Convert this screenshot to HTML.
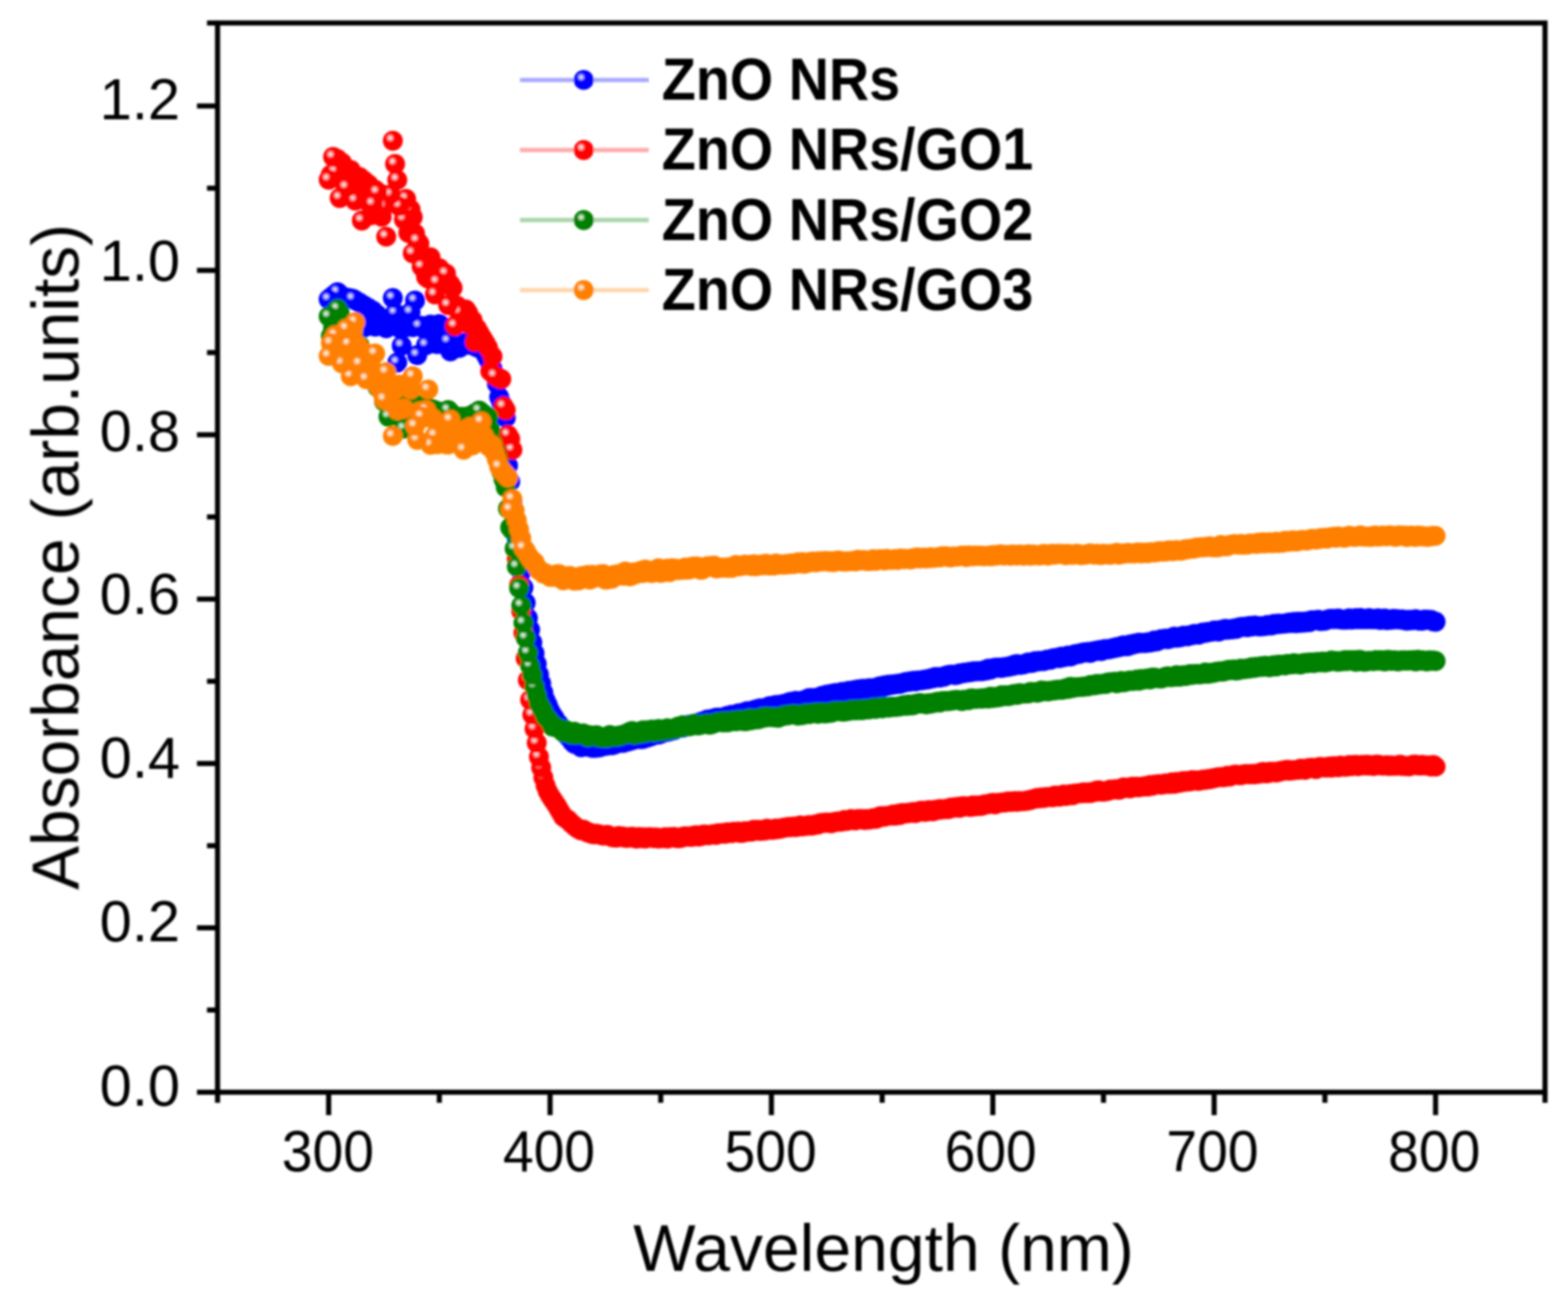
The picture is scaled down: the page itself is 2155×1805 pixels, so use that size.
<!DOCTYPE html>
<html><head><meta charset="utf-8"><title>Absorbance spectra</title>
<style>
html,body{margin:0;padding:0;background:#fff;}
body{width:2155px;height:1805px;overflow:hidden;}
svg{display:block;}
text{font-family:"Liberation Sans",sans-serif;fill:#000;}
.tk{font-size:80.2px;}
.ax{font-size:90.8px;}
.ay{font-size:90.5px;}
.lg{font-size:81.3px;font-weight:bold;}
</style></head><body>
<svg width="2155" height="1805" viewBox="0 0 2155 1805">
<rect width="2155" height="1805" fill="#fff"/>
<defs>
<filter id="bl" x="-2%" y="-2%" width="104%" height="104%"><feGaussianBlur stdDeviation="1.6"/></filter>
<radialGradient id="gb" cx="0.37" cy="0.36" r="0.5" fx="0.37" fy="0.36"><stop offset="0" stop-color="#d0d0ff"/><stop offset="0.15" stop-color="#d0d0ff"/><stop offset="0.43" stop-color="#0000ff"/><stop offset="1" stop-color="#0000ff"/></radialGradient>
<circle id="mb" r="13.7" fill="url(#gb)"/>
<circle id="pb" r="13.7" fill="#0000ff"/>
<radialGradient id="gr" cx="0.37" cy="0.36" r="0.5" fx="0.37" fy="0.36"><stop offset="0" stop-color="#ffd4d4"/><stop offset="0.15" stop-color="#ffd4d4"/><stop offset="0.43" stop-color="#ff0000"/><stop offset="1" stop-color="#ff0000"/></radialGradient>
<circle id="mr" r="13.7" fill="url(#gr)"/>
<circle id="pr" r="13.7" fill="#ff0000"/>
<radialGradient id="gg" cx="0.37" cy="0.36" r="0.5" fx="0.37" fy="0.36"><stop offset="0" stop-color="#cfe8cf"/><stop offset="0.15" stop-color="#cfe8cf"/><stop offset="0.43" stop-color="#008000"/><stop offset="1" stop-color="#008000"/></radialGradient>
<circle id="mg" r="13.7" fill="url(#gg)"/>
<circle id="pg" r="13.7" fill="#008000"/>
<radialGradient id="go" cx="0.37" cy="0.36" r="0.5" fx="0.37" fy="0.36"><stop offset="0" stop-color="#ffe4c8"/><stop offset="0.15" stop-color="#ffe4c8"/><stop offset="0.43" stop-color="#ff8000"/><stop offset="1" stop-color="#ff8000"/></radialGradient>
<circle id="mo" r="13.7" fill="url(#go)"/>
<circle id="po" r="13.7" fill="#ff8000"/>
</defs>
<g filter="url(#bl)">
<g><use href="#mb" x="1973.0" y="854.7"/>
<use href="#mb" x="1970.0" y="854.2"/>
<use href="#mb" x="1966.9" y="852.2"/>
<use href="#mb" x="1963.9" y="852.3"/>
<use href="#mb" x="1960.8" y="851.9"/>
<use href="#mb" x="1957.8" y="851.8"/>
<use href="#mb" x="1954.7" y="853.2"/>
<use href="#mb" x="1951.7" y="853.4"/>
<use href="#mb" x="1948.7" y="852.8"/>
<use href="#mb" x="1945.6" y="851.3"/>
<use href="#mb" x="1942.6" y="852.3"/>
<use href="#mb" x="1939.5" y="852.7"/>
<use href="#mb" x="1936.5" y="851.9"/>
<use href="#mb" x="1933.4" y="853.4"/>
<use href="#mb" x="1930.4" y="852.5"/>
<use href="#mb" x="1927.4" y="851.5"/>
<use href="#mb" x="1924.3" y="851.9"/>
<use href="#mb" x="1921.3" y="851.2"/>
<use href="#mb" x="1918.2" y="851.5"/>
<use href="#mb" x="1915.2" y="850.6"/>
<use href="#mb" x="1912.1" y="852.0"/>
<use href="#mb" x="1909.1" y="851.4"/>
<use href="#mb" x="1906.1" y="852.6"/>
<use href="#mb" x="1903.0" y="850.2"/>
<use href="#mb" x="1900.0" y="850.7"/>
<use href="#mb" x="1896.9" y="852.4"/>
<use href="#mb" x="1893.9" y="850.0"/>
<use href="#mb" x="1890.8" y="851.0"/>
<use href="#mb" x="1887.8" y="851.2"/>
<use href="#mb" x="1884.8" y="851.3"/>
<use href="#mb" x="1881.7" y="849.8"/>
<use href="#mb" x="1878.7" y="851.4"/>
<use href="#mb" x="1875.6" y="850.7"/>
<use href="#mb" x="1872.6" y="851.4"/>
<use href="#mb" x="1869.6" y="849.4"/>
<use href="#mb" x="1866.5" y="851.2"/>
<use href="#mb" x="1863.5" y="849.8"/>
<use href="#mb" x="1860.4" y="851.4"/>
<use href="#mb" x="1857.4" y="851.7"/>
<use href="#mb" x="1854.3" y="850.0"/>
<use href="#mb" x="1851.3" y="851.9"/>
<use href="#mb" x="1848.3" y="851.9"/>
<use href="#mb" x="1845.2" y="851.8"/>
<use href="#mb" x="1842.2" y="851.5"/>
<use href="#mb" x="1839.1" y="850.3"/>
<use href="#mb" x="1836.1" y="850.9"/>
<use href="#mb" x="1833.0" y="851.1"/>
<use href="#mb" x="1830.0" y="850.6"/>
<use href="#mb" x="1827.0" y="851.0"/>
<use href="#mb" x="1823.9" y="851.9"/>
<use href="#mb" x="1820.9" y="853.3"/>
<use href="#mb" x="1817.8" y="853.6"/>
<use href="#mb" x="1814.8" y="853.9"/>
<use href="#mb" x="1811.7" y="852.0"/>
<use href="#mb" x="1808.7" y="852.6"/>
<use href="#mb" x="1805.7" y="852.6"/>
<use href="#mb" x="1802.6" y="852.7"/>
<use href="#mb" x="1799.6" y="855.4"/>
<use href="#mb" x="1796.5" y="854.3"/>
<use href="#mb" x="1793.5" y="855.9"/>
<use href="#mb" x="1790.4" y="854.6"/>
<use href="#mb" x="1787.4" y="856.2"/>
<use href="#mb" x="1784.4" y="854.7"/>
<use href="#mb" x="1781.3" y="856.9"/>
<use href="#mb" x="1778.3" y="854.9"/>
<use href="#mb" x="1775.2" y="856.5"/>
<use href="#mb" x="1772.2" y="855.7"/>
<use href="#mb" x="1769.1" y="856.8"/>
<use href="#mb" x="1766.1" y="857.1"/>
<use href="#mb" x="1763.1" y="857.4"/>
<use href="#mb" x="1760.0" y="857.7"/>
<use href="#mb" x="1757.0" y="857.2"/>
<use href="#mb" x="1753.9" y="858.4"/>
<use href="#mb" x="1750.9" y="857.6"/>
<use href="#mb" x="1747.8" y="859.8"/>
<use href="#mb" x="1744.8" y="859.8"/>
<use href="#mb" x="1741.8" y="859.2"/>
<use href="#mb" x="1738.7" y="860.5"/>
<use href="#mb" x="1735.7" y="860.9"/>
<use href="#mb" x="1732.6" y="861.0"/>
<use href="#mb" x="1729.6" y="861.1"/>
<use href="#mb" x="1726.5" y="860.2"/>
<use href="#mb" x="1723.5" y="859.9"/>
<use href="#mb" x="1720.5" y="861.3"/>
<use href="#mb" x="1717.4" y="860.5"/>
<use href="#mb" x="1714.4" y="862.2"/>
<use href="#mb" x="1711.3" y="861.4"/>
<use href="#mb" x="1708.3" y="861.9"/>
<use href="#mb" x="1705.3" y="861.9"/>
<use href="#mb" x="1702.2" y="862.7"/>
<use href="#mb" x="1699.2" y="864.5"/>
<use href="#mb" x="1696.1" y="864.0"/>
<use href="#mb" x="1693.1" y="865.3"/>
<use href="#mb" x="1690.0" y="865.3"/>
<use href="#mb" x="1687.0" y="865.8"/>
<use href="#mb" x="1684.0" y="864.4"/>
<use href="#mb" x="1680.9" y="866.1"/>
<use href="#mb" x="1677.9" y="865.9"/>
<use href="#mb" x="1674.8" y="868.2"/>
<use href="#mb" x="1671.8" y="866.6"/>
<use href="#mb" x="1668.7" y="866.7"/>
<use href="#mb" x="1665.7" y="868.3"/>
<use href="#mb" x="1662.7" y="868.8"/>
<use href="#mb" x="1659.6" y="868.7"/>
<use href="#mb" x="1656.6" y="870.1"/>
<use href="#mb" x="1653.5" y="869.4"/>
<use href="#mb" x="1650.5" y="870.5"/>
<use href="#mb" x="1647.4" y="872.5"/>
<use href="#mb" x="1644.4" y="872.3"/>
<use href="#mb" x="1641.4" y="871.4"/>
<use href="#mb" x="1638.3" y="873.4"/>
<use href="#mb" x="1635.3" y="873.2"/>
<use href="#mb" x="1632.2" y="874.8"/>
<use href="#mb" x="1629.2" y="874.2"/>
<use href="#mb" x="1626.1" y="874.0"/>
<use href="#mb" x="1623.1" y="875.7"/>
<use href="#mb" x="1620.1" y="876.2"/>
<use href="#mb" x="1617.0" y="876.8"/>
<use href="#mb" x="1614.0" y="875.3"/>
<use href="#mb" x="1610.9" y="876.8"/>
<use href="#mb" x="1607.9" y="877.7"/>
<use href="#mb" x="1604.8" y="878.8"/>
<use href="#mb" x="1601.8" y="878.0"/>
<use href="#mb" x="1598.8" y="878.5"/>
<use href="#mb" x="1595.7" y="878.6"/>
<use href="#mb" x="1592.7" y="880.4"/>
<use href="#mb" x="1589.6" y="881.8"/>
<use href="#mb" x="1586.6" y="880.4"/>
<use href="#mb" x="1583.5" y="882.5"/>
<use href="#mb" x="1580.5" y="883.3"/>
<use href="#mb" x="1577.5" y="883.0"/>
<use href="#mb" x="1574.4" y="884.1"/>
<use href="#mb" x="1571.4" y="883.6"/>
<use href="#mb" x="1568.3" y="884.1"/>
<use href="#mb" x="1565.3" y="883.5"/>
<use href="#mb" x="1562.2" y="884.9"/>
<use href="#mb" x="1559.2" y="884.6"/>
<use href="#mb" x="1556.2" y="886.3"/>
<use href="#mb" x="1553.1" y="885.9"/>
<use href="#mb" x="1550.1" y="888.4"/>
<use href="#mb" x="1547.0" y="888.5"/>
<use href="#mb" x="1544.0" y="887.3"/>
<use href="#mb" x="1541.0" y="888.3"/>
<use href="#mb" x="1537.9" y="889.7"/>
<use href="#mb" x="1534.9" y="889.4"/>
<use href="#mb" x="1531.8" y="891.1"/>
<use href="#mb" x="1528.8" y="890.9"/>
<use href="#mb" x="1525.7" y="892.4"/>
<use href="#mb" x="1522.7" y="892.9"/>
<use href="#mb" x="1519.7" y="892.3"/>
<use href="#mb" x="1516.6" y="892.7"/>
<use href="#mb" x="1513.6" y="895.1"/>
<use href="#mb" x="1510.5" y="893.7"/>
<use href="#mb" x="1507.5" y="894.7"/>
<use href="#mb" x="1504.4" y="895.0"/>
<use href="#mb" x="1501.4" y="895.7"/>
<use href="#mb" x="1498.4" y="897.6"/>
<use href="#mb" x="1495.3" y="896.2"/>
<use href="#mb" x="1492.3" y="896.8"/>
<use href="#mb" x="1489.2" y="897.0"/>
<use href="#mb" x="1486.2" y="897.8"/>
<use href="#mb" x="1483.1" y="899.1"/>
<use href="#mb" x="1480.1" y="898.9"/>
<use href="#mb" x="1477.1" y="899.4"/>
<use href="#mb" x="1474.0" y="901.3"/>
<use href="#mb" x="1471.0" y="902.6"/>
<use href="#mb" x="1467.9" y="901.2"/>
<use href="#mb" x="1464.9" y="902.4"/>
<use href="#mb" x="1461.8" y="903.6"/>
<use href="#mb" x="1458.8" y="902.8"/>
<use href="#mb" x="1455.8" y="904.9"/>
<use href="#mb" x="1452.7" y="904.1"/>
<use href="#mb" x="1449.7" y="904.9"/>
<use href="#mb" x="1446.6" y="905.3"/>
<use href="#mb" x="1443.6" y="907.0"/>
<use href="#mb" x="1440.5" y="906.7"/>
<use href="#mb" x="1437.5" y="907.1"/>
<use href="#mb" x="1434.5" y="908.7"/>
<use href="#mb" x="1431.4" y="908.9"/>
<use href="#mb" x="1428.4" y="908.4"/>
<use href="#mb" x="1425.3" y="909.5"/>
<use href="#mb" x="1422.3" y="908.9"/>
<use href="#mb" x="1419.2" y="911.0"/>
<use href="#mb" x="1416.2" y="911.6"/>
<use href="#mb" x="1413.2" y="910.8"/>
<use href="#mb" x="1410.1" y="911.9"/>
<use href="#mb" x="1407.1" y="913.2"/>
<use href="#mb" x="1404.0" y="913.9"/>
<use href="#mb" x="1401.0" y="914.1"/>
<use href="#mb" x="1397.9" y="913.0"/>
<use href="#mb" x="1394.9" y="913.5"/>
<use href="#mb" x="1391.9" y="915.6"/>
<use href="#mb" x="1388.8" y="915.4"/>
<use href="#mb" x="1385.8" y="916.7"/>
<use href="#mb" x="1382.7" y="916.9"/>
<use href="#mb" x="1379.7" y="917.1"/>
<use href="#mb" x="1376.7" y="918.3"/>
<use href="#mb" x="1373.6" y="917.8"/>
<use href="#mb" x="1370.6" y="917.9"/>
<use href="#mb" x="1367.5" y="917.9"/>
<use href="#mb" x="1364.5" y="918.6"/>
<use href="#mb" x="1361.4" y="920.6"/>
<use href="#mb" x="1358.4" y="919.1"/>
<use href="#mb" x="1355.4" y="921.8"/>
<use href="#mb" x="1352.3" y="921.5"/>
<use href="#mb" x="1349.3" y="922.8"/>
<use href="#mb" x="1346.2" y="922.6"/>
<use href="#mb" x="1343.2" y="922.7"/>
<use href="#mb" x="1340.1" y="922.9"/>
<use href="#mb" x="1337.1" y="922.9"/>
<use href="#mb" x="1334.1" y="924.0"/>
<use href="#mb" x="1331.0" y="924.0"/>
<use href="#mb" x="1328.0" y="924.8"/>
<use href="#mb" x="1324.9" y="924.8"/>
<use href="#mb" x="1321.9" y="925.9"/>
<use href="#mb" x="1318.8" y="925.6"/>
<use href="#mb" x="1315.8" y="927.6"/>
<use href="#mb" x="1312.8" y="928.0"/>
<use href="#mb" x="1309.7" y="927.5"/>
<use href="#mb" x="1306.7" y="927.4"/>
<use href="#mb" x="1303.6" y="927.9"/>
<use href="#mb" x="1300.6" y="928.6"/>
<use href="#mb" x="1297.5" y="930.2"/>
<use href="#mb" x="1294.5" y="930.5"/>
<use href="#mb" x="1291.5" y="931.6"/>
<use href="#mb" x="1288.4" y="930.9"/>
<use href="#mb" x="1285.4" y="930.6"/>
<use href="#mb" x="1282.3" y="932.5"/>
<use href="#mb" x="1279.3" y="932.5"/>
<use href="#mb" x="1276.2" y="933.7"/>
<use href="#mb" x="1273.2" y="934.0"/>
<use href="#mb" x="1270.2" y="934.5"/>
<use href="#mb" x="1267.1" y="935.1"/>
<use href="#mb" x="1264.1" y="935.4"/>
<use href="#mb" x="1261.0" y="935.4"/>
<use href="#mb" x="1258.0" y="936.7"/>
<use href="#mb" x="1254.9" y="935.9"/>
<use href="#mb" x="1251.9" y="936.8"/>
<use href="#mb" x="1248.9" y="937.2"/>
<use href="#mb" x="1245.8" y="937.4"/>
<use href="#mb" x="1242.8" y="938.2"/>
<use href="#mb" x="1239.7" y="939.1"/>
<use href="#mb" x="1236.7" y="940.3"/>
<use href="#mb" x="1233.6" y="940.0"/>
<use href="#mb" x="1230.6" y="940.7"/>
<use href="#mb" x="1227.6" y="940.6"/>
<use href="#mb" x="1224.5" y="941.7"/>
<use href="#mb" x="1221.5" y="941.3"/>
<use href="#mb" x="1218.4" y="943.3"/>
<use href="#mb" x="1215.4" y="942.3"/>
<use href="#mb" x="1212.4" y="945.2"/>
<use href="#mb" x="1209.3" y="943.5"/>
<use href="#mb" x="1206.3" y="944.6"/>
<use href="#mb" x="1203.2" y="945.8"/>
<use href="#mb" x="1200.2" y="947.2"/>
<use href="#mb" x="1197.1" y="946.2"/>
<use href="#mb" x="1194.1" y="946.1"/>
<use href="#mb" x="1191.1" y="947.9"/>
<use href="#mb" x="1188.0" y="947.3"/>
<use href="#mb" x="1185.0" y="946.9"/>
<use href="#mb" x="1181.9" y="948.6"/>
<use href="#mb" x="1178.9" y="947.8"/>
<use href="#mb" x="1175.8" y="949.0"/>
<use href="#mb" x="1172.8" y="949.0"/>
<use href="#mb" x="1169.8" y="950.7"/>
<use href="#mb" x="1166.7" y="949.8"/>
<use href="#mb" x="1163.7" y="950.6"/>
<use href="#mb" x="1160.6" y="951.7"/>
<use href="#mb" x="1157.6" y="951.1"/>
<use href="#mb" x="1154.5" y="952.3"/>
<use href="#mb" x="1151.5" y="953.1"/>
<use href="#mb" x="1148.5" y="952.6"/>
<use href="#mb" x="1145.4" y="953.4"/>
<use href="#mb" x="1142.4" y="953.9"/>
<use href="#mb" x="1139.3" y="955.2"/>
<use href="#mb" x="1136.3" y="955.0"/>
<use href="#mb" x="1133.2" y="957.0"/>
<use href="#mb" x="1130.2" y="956.5"/>
<use href="#mb" x="1127.2" y="958.7"/>
<use href="#mb" x="1124.1" y="958.8"/>
<use href="#mb" x="1121.1" y="959.8"/>
<use href="#mb" x="1118.0" y="960.8"/>
<use href="#mb" x="1115.0" y="959.5"/>
<use href="#mb" x="1111.9" y="959.8"/>
<use href="#mb" x="1108.9" y="962.6"/>
<use href="#mb" x="1105.9" y="962.1"/>
<use href="#mb" x="1102.8" y="963.6"/>
<use href="#mb" x="1099.8" y="964.2"/>
<use href="#mb" x="1096.7" y="964.7"/>
<use href="#mb" x="1093.7" y="963.5"/>
<use href="#mb" x="1090.6" y="965.4"/>
<use href="#mb" x="1087.6" y="964.8"/>
<use href="#mb" x="1084.6" y="965.4"/>
<use href="#mb" x="1081.5" y="966.9"/>
<use href="#mb" x="1078.5" y="967.4"/>
<use href="#mb" x="1075.4" y="968.3"/>
<use href="#mb" x="1072.4" y="969.2"/>
<use href="#mb" x="1069.3" y="969.2"/>
<use href="#mb" x="1066.3" y="969.2"/>
<use href="#mb" x="1063.3" y="970.7"/>
<use href="#mb" x="1060.2" y="970.4"/>
<use href="#mb" x="1057.2" y="971.0"/>
<use href="#mb" x="1054.1" y="972.4"/>
<use href="#mb" x="1051.1" y="974.0"/>
<use href="#mb" x="1048.0" y="975.2"/>
<use href="#mb" x="1045.0" y="973.6"/>
<use href="#mb" x="1042.0" y="974.4"/>
<use href="#mb" x="1038.9" y="975.4"/>
<use href="#mb" x="1035.9" y="976.1"/>
<use href="#mb" x="1032.8" y="978.4"/>
<use href="#mb" x="1029.8" y="978.6"/>
<use href="#mb" x="1026.8" y="977.7"/>
<use href="#mb" x="1023.7" y="979.3"/>
<use href="#mb" x="1020.7" y="979.7"/>
<use href="#mb" x="1017.6" y="981.5"/>
<use href="#mb" x="1014.6" y="980.7"/>
<use href="#mb" x="1011.5" y="982.6"/>
<use href="#mb" x="1008.5" y="983.7"/>
<use href="#mb" x="1005.5" y="982.7"/>
<use href="#mb" x="1002.4" y="984.6"/>
<use href="#mb" x="999.4" y="984.2"/>
<use href="#mb" x="996.3" y="985.4"/>
<use href="#mb" x="993.3" y="986.7"/>
<use href="#mb" x="990.2" y="986.8"/>
<use href="#mb" x="987.2" y="986.5"/>
<use href="#mb" x="984.2" y="986.8"/>
<use href="#mb" x="981.1" y="987.8"/>
<use href="#mb" x="978.1" y="988.8"/>
<use href="#mb" x="975.0" y="989.2"/>
<use href="#mb" x="972.0" y="989.1"/>
<use href="#mb" x="968.9" y="991.5"/>
<use href="#mb" x="965.9" y="991.8"/>
<use href="#mb" x="962.9" y="992.6"/>
<use href="#mb" x="959.8" y="993.7"/>
<use href="#mb" x="956.8" y="995.5"/>
<use href="#mb" x="953.7" y="996.5"/>
<use href="#mb" x="950.7" y="997.0"/>
<use href="#mb" x="947.6" y="996.3"/>
<use href="#mb" x="944.6" y="997.6"/>
<use href="#mb" x="941.6" y="998.8"/>
<use href="#mb" x="938.5" y="1000.2"/>
<use href="#mb" x="935.5" y="999.7"/>
<use href="#mb" x="932.4" y="1000.2"/>
<use href="#mb" x="929.4" y="1002.0"/>
<use href="#mb" x="926.3" y="1003.7"/>
<use href="#mb" x="923.3" y="1003.3"/>
<use href="#mb" x="920.3" y="1005.2"/>
<use href="#mb" x="917.2" y="1006.1"/>
<use href="#mb" x="914.2" y="1006.1"/>
<use href="#mb" x="911.1" y="1005.9"/>
<use href="#mb" x="908.1" y="1008.8"/>
<use href="#mb" x="905.0" y="1009.8"/>
<use href="#mb" x="902.0" y="1009.3"/>
<use href="#mb" x="899.0" y="1009.8"/>
<use href="#mb" x="895.9" y="1011.8"/>
<use href="#mb" x="892.9" y="1012.9"/>
<use href="#mb" x="889.8" y="1013.9"/>
<use href="#mb" x="886.8" y="1014.6"/>
<use href="#mb" x="883.7" y="1015.7"/>
<use href="#mb" x="880.7" y="1016.1"/>
<use href="#mb" x="877.7" y="1015.6"/>
<use href="#mb" x="874.6" y="1015.8"/>
<use href="#mb" x="871.6" y="1016.1"/>
<use href="#mb" x="868.5" y="1017.8"/>
<use href="#mb" x="865.5" y="1017.5"/>
<use href="#mb" x="862.5" y="1019.5"/>
<use href="#mb" x="859.4" y="1018.9"/>
<use href="#mb" x="856.4" y="1021.4"/>
<use href="#mb" x="853.3" y="1020.8"/>
<use href="#mb" x="850.3" y="1020.6"/>
<use href="#mb" x="847.2" y="1022.2"/>
<use href="#mb" x="844.2" y="1023.5"/>
<use href="#mb" x="841.2" y="1024.6"/>
<use href="#mb" x="838.1" y="1023.5"/>
<use href="#mb" x="835.1" y="1024.8"/>
<use href="#mb" x="832.0" y="1025.3"/>
<use href="#mb" x="829.0" y="1025.0"/>
<use href="#mb" x="825.9" y="1026.8"/>
<use href="#mb" x="822.9" y="1027.6"/>
<use href="#mb" x="819.9" y="1027.9"/>
<use href="#mb" x="816.8" y="1028.1"/>
<use href="#mb" x="813.8" y="1028.0"/>
<use href="#mb" x="810.7" y="1026.7"/>
<use href="#mb" x="807.7" y="1026.2"/>
<use href="#mb" x="804.6" y="1026.4"/>
<use href="#mb" x="801.6" y="1026.2"/>
<use href="#mb" x="798.6" y="1027.3"/>
<use href="#mb" x="795.5" y="1024.9"/>
<use href="#mb" x="792.5" y="1022.8"/>
<use href="#mb" x="789.4" y="1022.5"/>
<use href="#mb" x="786.4" y="1019.8"/>
<use href="#mb" x="783.3" y="1014.9"/>
<use href="#mb" x="780.3" y="1012.2"/>
<use href="#mb" x="777.3" y="1007.9"/>
<use href="#mb" x="774.2" y="1006.0"/>
<use href="#mb" x="771.2" y="1000.4"/>
<use href="#mb" x="768.1" y="995.5"/>
<use href="#mb" x="765.1" y="992.4"/>
<use href="#mb" x="762.0" y="986.8"/>
<use href="#mb" x="759.0" y="982.5"/>
<use href="#mb" x="756.0" y="977.0"/>
<use href="#mb" x="752.9" y="969.4"/>
<use href="#mb" x="749.9" y="962.9"/>
<use href="#mb" x="746.8" y="952.2"/>
<use href="#mb" x="743.8" y="939.4"/>
<use href="#mb" x="740.7" y="927.2"/>
<use href="#mb" x="737.7" y="912.8"/>
<use href="#mb" x="734.7" y="898.1"/>
<use href="#mb" x="731.6" y="883.1"/>
<use href="#mb" x="728.6" y="865.6"/>
<use href="#mb" x="725.5" y="849.7"/>
<use href="#mb" x="722.5" y="828.8"/>
<use href="#pb" x="719.4" y="807.8"/>
<use href="#pb" x="716.4" y="786.3"/>
<use href="#pb" x="713.4" y="762.6"/>
<use href="#pb" x="710.3" y="740.0"/>
<use href="#pb" x="707.3" y="715.2"/>
<use href="#pb" x="704.2" y="690.3"/>
<use href="#pb" x="701.2" y="662.1"/>
<use href="#pb" x="698.2" y="640.0"/>
<use href="#pb" x="695.1" y="574.4"/>
<use href="#pb" x="692.1" y="563.8"/>
<use href="#pb" x="689.0" y="554.0"/>
<use href="#pb" x="686.0" y="545.7"/>
<use href="#pb" x="682.9" y="527.6"/>
<use href="#pb" x="679.9" y="515.2"/>
<use href="#pb" x="676.9" y="507.3"/>
<use href="#pb" x="673.8" y="500.5"/>
<use href="#pb" x="670.8" y="493.7"/>
<use href="#pb" x="667.7" y="488.1"/>
<use href="#pb" x="664.7" y="482.4"/>
<use href="#pb" x="661.6" y="480.2"/>
<use href="#pb" x="658.6" y="475.1"/>
<use href="#pb" x="655.6" y="477.5"/>
<use href="#pb" x="652.5" y="475.8"/>
<use href="#pb" x="649.5" y="473.5"/>
<use href="#pb" x="646.4" y="474.0"/>
<use href="#pb" x="643.4" y="471.9"/>
<use href="#pb" x="640.3" y="470.8"/>
<use href="#pb" x="637.3" y="471.9"/>
<use href="#pb" x="634.3" y="476.4"/>
<use href="#pb" x="631.2" y="478.4"/>
<use href="#pb" x="628.2" y="476.1"/>
<use href="#pb" x="625.1" y="478.4"/>
<use href="#pb" x="622.1" y="475.7"/>
<use href="#pb" x="619.0" y="483.1"/>
<use href="#pb" x="613.0" y="475.1"/>
<use href="#pb" x="609.9" y="449.6"/>
<use href="#pb" x="606.9" y="470.1"/>
<use href="#pb" x="603.8" y="445.5"/>
<use href="#pb" x="600.8" y="473.0"/>
<use href="#pb" x="597.7" y="447.8"/>
<use href="#pb" x="594.7" y="471.9"/>
<use href="#pb" x="591.7" y="446.2"/>
<use href="#pb" x="588.6" y="449.2"/>
<use href="#pb" x="582.5" y="451.5"/>
<use href="#pb" x="579.5" y="447.9"/>
<use href="#pb" x="567.3" y="449.8"/>
<use href="#pb" x="561.2" y="446.4"/>
<use href="#pb" x="558.2" y="446.8"/>
<use href="#pb" x="555.1" y="450.8"/>
<use href="#pb" x="549.1" y="451.1"/>
<use href="#pb" x="536.9" y="446.1"/>
<use href="#pb" x="533.9" y="445.9"/>
<use href="#pb" x="530.8" y="451.2"/>
<use href="#pb" x="527.8" y="447.0"/>
<use href="#pb" x="524.7" y="446.1"/>
<use href="#pb" x="521.7" y="445.5"/>
<use href="#pb" x="518.6" y="432.7"/>
<use href="#pb" x="515.6" y="449.1"/>
<use href="#pb" x="512.6" y="427.1"/>
<use href="#pb" x="509.5" y="447.0"/>
<use href="#pb" x="506.5" y="423.5"/>
<use href="#pb" x="503.4" y="448.8"/>
<use href="#pb" x="500.4" y="419.9"/>
<use href="#pb" x="497.3" y="451.8"/>
<use href="#pb" x="494.3" y="416.3"/>
<use href="#pb" x="491.3" y="450.7"/>
<use href="#pb" x="488.2" y="412.7"/>
<use href="#pb" x="482.1" y="410.3"/>
<use href="#pb" x="479.1" y="409.7"/>
<use href="#pb" x="476.0" y="409.1"/>
<use href="#pb" x="473.0" y="408.5"/>
<use href="#pb" x="470.0" y="407.9"/>
<use href="#pb" x="466.9" y="404.8"/>
<use href="#pb" x="460.8" y="404.2"/>
<use href="#pb" x="457.8" y="406.6"/>
<use href="#pb" x="454.7" y="409.0"/>
<use href="#mb" x="616.0" y="469.4"/>
<use href="#mb" x="585.6" y="474.5"/>
<use href="#mb" x="576.4" y="448.5"/>
<use href="#mb" x="573.4" y="488.2"/>
<use href="#mb" x="570.4" y="413.2"/>
<use href="#mb" x="564.3" y="429.3"/>
<use href="#mb" x="552.1" y="475.2"/>
<use href="#mb" x="546.0" y="498.5"/>
<use href="#mb" x="543.0" y="430.4"/>
<use href="#mb" x="539.9" y="409.8"/>
<use href="#mb" x="485.2" y="410.9"/>
<use href="#mb" x="463.9" y="401.8"/>
<use href="#mb" x="451.7" y="411.5"/></g>
<g><use href="#mr" x="1973.0" y="1053.9"/>
<use href="#mr" x="1970.0" y="1051.8"/>
<use href="#mr" x="1966.9" y="1053.8"/>
<use href="#mr" x="1963.9" y="1052.2"/>
<use href="#mr" x="1960.8" y="1052.4"/>
<use href="#mr" x="1957.8" y="1052.4"/>
<use href="#mr" x="1954.7" y="1051.4"/>
<use href="#mr" x="1951.7" y="1052.6"/>
<use href="#mr" x="1948.7" y="1052.3"/>
<use href="#mr" x="1945.6" y="1051.2"/>
<use href="#mr" x="1942.6" y="1051.3"/>
<use href="#mr" x="1939.5" y="1052.4"/>
<use href="#mr" x="1936.5" y="1053.5"/>
<use href="#mr" x="1933.4" y="1053.1"/>
<use href="#mr" x="1930.4" y="1052.9"/>
<use href="#mr" x="1927.4" y="1053.0"/>
<use href="#mr" x="1924.3" y="1051.2"/>
<use href="#mr" x="1921.3" y="1052.6"/>
<use href="#mr" x="1918.2" y="1052.5"/>
<use href="#mr" x="1915.2" y="1052.7"/>
<use href="#mr" x="1912.1" y="1052.1"/>
<use href="#mr" x="1909.1" y="1053.1"/>
<use href="#mr" x="1906.1" y="1051.9"/>
<use href="#mr" x="1903.0" y="1052.5"/>
<use href="#mr" x="1900.0" y="1052.6"/>
<use href="#mr" x="1896.9" y="1052.0"/>
<use href="#mr" x="1893.9" y="1051.2"/>
<use href="#mr" x="1890.8" y="1051.3"/>
<use href="#mr" x="1887.8" y="1053.0"/>
<use href="#mr" x="1884.8" y="1051.9"/>
<use href="#mr" x="1881.7" y="1052.5"/>
<use href="#mr" x="1878.7" y="1051.2"/>
<use href="#mr" x="1875.6" y="1052.2"/>
<use href="#mr" x="1872.6" y="1051.4"/>
<use href="#mr" x="1869.6" y="1052.4"/>
<use href="#mr" x="1866.5" y="1053.4"/>
<use href="#mr" x="1863.5" y="1051.5"/>
<use href="#mr" x="1860.4" y="1051.7"/>
<use href="#mr" x="1857.4" y="1053.4"/>
<use href="#mr" x="1854.3" y="1051.7"/>
<use href="#mr" x="1851.3" y="1053.7"/>
<use href="#mr" x="1848.3" y="1054.0"/>
<use href="#mr" x="1845.2" y="1053.4"/>
<use href="#mr" x="1842.2" y="1052.4"/>
<use href="#mr" x="1839.1" y="1054.7"/>
<use href="#mr" x="1836.1" y="1053.7"/>
<use href="#mr" x="1833.0" y="1053.2"/>
<use href="#mr" x="1830.0" y="1055.2"/>
<use href="#mr" x="1827.0" y="1053.8"/>
<use href="#mr" x="1823.9" y="1055.0"/>
<use href="#mr" x="1820.9" y="1055.1"/>
<use href="#mr" x="1817.8" y="1054.6"/>
<use href="#mr" x="1814.8" y="1054.3"/>
<use href="#mr" x="1811.7" y="1055.0"/>
<use href="#mr" x="1808.7" y="1057.4"/>
<use href="#mr" x="1805.7" y="1056.2"/>
<use href="#mr" x="1802.6" y="1055.5"/>
<use href="#mr" x="1799.6" y="1055.6"/>
<use href="#mr" x="1796.5" y="1056.5"/>
<use href="#mr" x="1793.5" y="1058.3"/>
<use href="#mr" x="1790.4" y="1057.3"/>
<use href="#mr" x="1787.4" y="1056.6"/>
<use href="#mr" x="1784.4" y="1058.4"/>
<use href="#mr" x="1781.3" y="1058.4"/>
<use href="#mr" x="1778.3" y="1058.8"/>
<use href="#mr" x="1775.2" y="1058.6"/>
<use href="#mr" x="1772.2" y="1059.6"/>
<use href="#mr" x="1769.1" y="1058.2"/>
<use href="#mr" x="1766.1" y="1058.8"/>
<use href="#mr" x="1763.1" y="1059.7"/>
<use href="#mr" x="1760.0" y="1059.8"/>
<use href="#mr" x="1757.0" y="1061.4"/>
<use href="#mr" x="1753.9" y="1062.0"/>
<use href="#mr" x="1750.9" y="1061.0"/>
<use href="#mr" x="1747.8" y="1061.7"/>
<use href="#mr" x="1744.8" y="1060.9"/>
<use href="#mr" x="1741.8" y="1063.1"/>
<use href="#mr" x="1738.7" y="1063.0"/>
<use href="#mr" x="1735.7" y="1061.1"/>
<use href="#mr" x="1732.6" y="1062.1"/>
<use href="#mr" x="1729.6" y="1063.8"/>
<use href="#mr" x="1726.5" y="1063.7"/>
<use href="#mr" x="1723.5" y="1064.6"/>
<use href="#mr" x="1720.5" y="1063.9"/>
<use href="#mr" x="1717.4" y="1064.5"/>
<use href="#mr" x="1714.4" y="1064.3"/>
<use href="#mr" x="1711.3" y="1064.2"/>
<use href="#mr" x="1708.3" y="1064.7"/>
<use href="#mr" x="1705.3" y="1065.9"/>
<use href="#mr" x="1702.2" y="1065.6"/>
<use href="#mr" x="1699.2" y="1064.9"/>
<use href="#mr" x="1696.1" y="1065.1"/>
<use href="#mr" x="1693.1" y="1066.1"/>
<use href="#mr" x="1690.0" y="1067.5"/>
<use href="#mr" x="1687.0" y="1066.5"/>
<use href="#mr" x="1684.0" y="1068.0"/>
<use href="#mr" x="1680.9" y="1068.5"/>
<use href="#mr" x="1677.9" y="1068.1"/>
<use href="#mr" x="1674.8" y="1068.4"/>
<use href="#mr" x="1671.8" y="1069.0"/>
<use href="#mr" x="1668.7" y="1069.8"/>
<use href="#mr" x="1665.7" y="1070.3"/>
<use href="#mr" x="1662.7" y="1071.4"/>
<use href="#mr" x="1659.6" y="1070.9"/>
<use href="#mr" x="1656.6" y="1072.0"/>
<use href="#mr" x="1653.5" y="1071.8"/>
<use href="#mr" x="1650.5" y="1072.5"/>
<use href="#mr" x="1647.4" y="1073.6"/>
<use href="#mr" x="1644.4" y="1072.9"/>
<use href="#mr" x="1641.4" y="1072.6"/>
<use href="#mr" x="1638.3" y="1072.5"/>
<use href="#mr" x="1635.3" y="1074.2"/>
<use href="#mr" x="1632.2" y="1073.7"/>
<use href="#mr" x="1629.2" y="1074.8"/>
<use href="#mr" x="1626.1" y="1073.7"/>
<use href="#mr" x="1623.1" y="1075.6"/>
<use href="#mr" x="1620.1" y="1076.2"/>
<use href="#mr" x="1617.0" y="1074.9"/>
<use href="#mr" x="1614.0" y="1077.6"/>
<use href="#mr" x="1610.9" y="1075.5"/>
<use href="#mr" x="1607.9" y="1077.9"/>
<use href="#mr" x="1604.8" y="1077.6"/>
<use href="#mr" x="1601.8" y="1076.9"/>
<use href="#mr" x="1598.8" y="1078.4"/>
<use href="#mr" x="1595.7" y="1078.8"/>
<use href="#mr" x="1592.7" y="1078.0"/>
<use href="#mr" x="1589.6" y="1078.5"/>
<use href="#mr" x="1586.6" y="1078.8"/>
<use href="#mr" x="1583.5" y="1080.3"/>
<use href="#mr" x="1580.5" y="1079.3"/>
<use href="#mr" x="1577.5" y="1081.4"/>
<use href="#mr" x="1574.4" y="1080.7"/>
<use href="#mr" x="1571.4" y="1081.2"/>
<use href="#mr" x="1568.3" y="1081.6"/>
<use href="#mr" x="1565.3" y="1082.3"/>
<use href="#mr" x="1562.2" y="1081.5"/>
<use href="#mr" x="1559.2" y="1082.4"/>
<use href="#mr" x="1556.2" y="1081.4"/>
<use href="#mr" x="1553.1" y="1083.7"/>
<use href="#mr" x="1550.1" y="1083.0"/>
<use href="#mr" x="1547.0" y="1082.7"/>
<use href="#mr" x="1544.0" y="1082.5"/>
<use href="#mr" x="1541.0" y="1084.5"/>
<use href="#mr" x="1537.9" y="1085.9"/>
<use href="#mr" x="1534.9" y="1085.0"/>
<use href="#mr" x="1531.8" y="1085.2"/>
<use href="#mr" x="1528.8" y="1085.5"/>
<use href="#mr" x="1525.7" y="1085.4"/>
<use href="#mr" x="1522.7" y="1087.2"/>
<use href="#mr" x="1519.7" y="1087.7"/>
<use href="#mr" x="1516.6" y="1088.3"/>
<use href="#mr" x="1513.6" y="1088.4"/>
<use href="#mr" x="1510.5" y="1086.5"/>
<use href="#mr" x="1507.5" y="1086.8"/>
<use href="#mr" x="1504.4" y="1088.7"/>
<use href="#mr" x="1501.4" y="1088.7"/>
<use href="#mr" x="1498.4" y="1090.4"/>
<use href="#mr" x="1495.3" y="1089.3"/>
<use href="#mr" x="1492.3" y="1090.3"/>
<use href="#mr" x="1489.2" y="1089.1"/>
<use href="#mr" x="1486.2" y="1090.5"/>
<use href="#mr" x="1483.1" y="1090.4"/>
<use href="#mr" x="1480.1" y="1091.1"/>
<use href="#mr" x="1477.1" y="1091.0"/>
<use href="#mr" x="1474.0" y="1093.3"/>
<use href="#mr" x="1471.0" y="1091.8"/>
<use href="#mr" x="1467.9" y="1093.3"/>
<use href="#mr" x="1464.9" y="1094.4"/>
<use href="#mr" x="1461.8" y="1092.2"/>
<use href="#mr" x="1458.8" y="1093.8"/>
<use href="#mr" x="1455.8" y="1095.2"/>
<use href="#mr" x="1452.7" y="1093.9"/>
<use href="#mr" x="1449.7" y="1093.8"/>
<use href="#mr" x="1446.6" y="1096.0"/>
<use href="#mr" x="1443.6" y="1095.4"/>
<use href="#mr" x="1440.5" y="1095.9"/>
<use href="#mr" x="1437.5" y="1095.8"/>
<use href="#mr" x="1434.5" y="1097.1"/>
<use href="#mr" x="1431.4" y="1096.1"/>
<use href="#mr" x="1428.4" y="1097.6"/>
<use href="#mr" x="1425.3" y="1097.0"/>
<use href="#mr" x="1422.3" y="1098.1"/>
<use href="#mr" x="1419.2" y="1098.6"/>
<use href="#mr" x="1416.2" y="1099.8"/>
<use href="#mr" x="1413.2" y="1100.2"/>
<use href="#mr" x="1410.1" y="1101.1"/>
<use href="#mr" x="1407.1" y="1101.1"/>
<use href="#mr" x="1404.0" y="1101.6"/>
<use href="#mr" x="1401.0" y="1101.1"/>
<use href="#mr" x="1397.9" y="1102.4"/>
<use href="#mr" x="1394.9" y="1101.1"/>
<use href="#mr" x="1391.9" y="1101.9"/>
<use href="#mr" x="1388.8" y="1102.5"/>
<use href="#mr" x="1385.8" y="1101.7"/>
<use href="#mr" x="1382.7" y="1102.8"/>
<use href="#mr" x="1379.7" y="1103.2"/>
<use href="#mr" x="1376.7" y="1103.2"/>
<use href="#mr" x="1373.6" y="1103.8"/>
<use href="#mr" x="1370.6" y="1104.0"/>
<use href="#mr" x="1367.5" y="1105.8"/>
<use href="#mr" x="1364.5" y="1103.7"/>
<use href="#mr" x="1361.4" y="1104.5"/>
<use href="#mr" x="1358.4" y="1105.2"/>
<use href="#mr" x="1355.4" y="1106.0"/>
<use href="#mr" x="1352.3" y="1106.0"/>
<use href="#mr" x="1349.3" y="1107.8"/>
<use href="#mr" x="1346.2" y="1108.0"/>
<use href="#mr" x="1343.2" y="1107.2"/>
<use href="#mr" x="1340.1" y="1108.5"/>
<use href="#mr" x="1337.1" y="1107.3"/>
<use href="#mr" x="1334.1" y="1109.3"/>
<use href="#mr" x="1331.0" y="1108.4"/>
<use href="#mr" x="1328.0" y="1108.9"/>
<use href="#mr" x="1324.9" y="1108.3"/>
<use href="#mr" x="1321.9" y="1108.5"/>
<use href="#mr" x="1318.8" y="1110.6"/>
<use href="#mr" x="1315.8" y="1109.2"/>
<use href="#mr" x="1312.8" y="1109.8"/>
<use href="#mr" x="1309.7" y="1110.5"/>
<use href="#mr" x="1306.7" y="1110.2"/>
<use href="#mr" x="1303.6" y="1112.2"/>
<use href="#mr" x="1300.6" y="1112.2"/>
<use href="#mr" x="1297.5" y="1112.3"/>
<use href="#mr" x="1294.5" y="1112.7"/>
<use href="#mr" x="1291.5" y="1112.3"/>
<use href="#mr" x="1288.4" y="1113.5"/>
<use href="#mr" x="1285.4" y="1113.1"/>
<use href="#mr" x="1282.3" y="1115.2"/>
<use href="#mr" x="1279.3" y="1114.7"/>
<use href="#mr" x="1276.2" y="1113.6"/>
<use href="#mr" x="1273.2" y="1115.7"/>
<use href="#mr" x="1270.2" y="1116.1"/>
<use href="#mr" x="1267.1" y="1114.5"/>
<use href="#mr" x="1264.1" y="1115.0"/>
<use href="#mr" x="1261.0" y="1116.3"/>
<use href="#mr" x="1258.0" y="1117.7"/>
<use href="#mr" x="1254.9" y="1116.3"/>
<use href="#mr" x="1251.9" y="1117.5"/>
<use href="#mr" x="1248.9" y="1117.3"/>
<use href="#mr" x="1245.8" y="1118.3"/>
<use href="#mr" x="1242.8" y="1118.0"/>
<use href="#mr" x="1239.7" y="1117.8"/>
<use href="#mr" x="1236.7" y="1120.5"/>
<use href="#mr" x="1233.6" y="1118.9"/>
<use href="#mr" x="1230.6" y="1121.2"/>
<use href="#mr" x="1227.6" y="1119.8"/>
<use href="#mr" x="1224.5" y="1121.3"/>
<use href="#mr" x="1221.5" y="1121.4"/>
<use href="#mr" x="1218.4" y="1121.6"/>
<use href="#mr" x="1215.4" y="1122.7"/>
<use href="#mr" x="1212.4" y="1121.9"/>
<use href="#mr" x="1209.3" y="1122.3"/>
<use href="#mr" x="1206.3" y="1124.7"/>
<use href="#mr" x="1203.2" y="1125.8"/>
<use href="#mr" x="1200.2" y="1124.6"/>
<use href="#mr" x="1197.1" y="1126.0"/>
<use href="#mr" x="1194.1" y="1126.9"/>
<use href="#mr" x="1191.1" y="1126.0"/>
<use href="#mr" x="1188.0" y="1127.2"/>
<use href="#mr" x="1185.0" y="1125.9"/>
<use href="#mr" x="1181.9" y="1126.2"/>
<use href="#mr" x="1178.9" y="1126.0"/>
<use href="#mr" x="1175.8" y="1127.7"/>
<use href="#mr" x="1172.8" y="1127.6"/>
<use href="#mr" x="1169.8" y="1126.0"/>
<use href="#mr" x="1166.7" y="1127.7"/>
<use href="#mr" x="1163.7" y="1128.5"/>
<use href="#mr" x="1160.6" y="1127.3"/>
<use href="#mr" x="1157.6" y="1129.3"/>
<use href="#mr" x="1154.5" y="1129.9"/>
<use href="#mr" x="1151.5" y="1129.1"/>
<use href="#mr" x="1148.5" y="1130.0"/>
<use href="#mr" x="1145.4" y="1130.2"/>
<use href="#mr" x="1142.4" y="1131.7"/>
<use href="#mr" x="1139.3" y="1131.1"/>
<use href="#mr" x="1136.3" y="1130.6"/>
<use href="#mr" x="1133.2" y="1131.3"/>
<use href="#mr" x="1130.2" y="1131.1"/>
<use href="#mr" x="1127.2" y="1131.8"/>
<use href="#mr" x="1124.1" y="1133.5"/>
<use href="#mr" x="1121.1" y="1133.1"/>
<use href="#mr" x="1118.0" y="1134.6"/>
<use href="#mr" x="1115.0" y="1135.0"/>
<use href="#mr" x="1111.9" y="1134.1"/>
<use href="#mr" x="1108.9" y="1135.1"/>
<use href="#mr" x="1105.9" y="1135.5"/>
<use href="#mr" x="1102.8" y="1136.0"/>
<use href="#mr" x="1099.8" y="1134.6"/>
<use href="#mr" x="1096.7" y="1136.4"/>
<use href="#mr" x="1093.7" y="1137.0"/>
<use href="#mr" x="1090.6" y="1136.1"/>
<use href="#mr" x="1087.6" y="1137.1"/>
<use href="#mr" x="1084.6" y="1136.8"/>
<use href="#mr" x="1081.5" y="1137.2"/>
<use href="#mr" x="1078.5" y="1137.7"/>
<use href="#mr" x="1075.4" y="1138.2"/>
<use href="#mr" x="1072.4" y="1139.2"/>
<use href="#mr" x="1069.3" y="1139.8"/>
<use href="#mr" x="1066.3" y="1138.9"/>
<use href="#mr" x="1063.3" y="1140.5"/>
<use href="#mr" x="1060.2" y="1140.8"/>
<use href="#mr" x="1057.2" y="1140.1"/>
<use href="#mr" x="1054.1" y="1139.2"/>
<use href="#mr" x="1051.1" y="1141.8"/>
<use href="#mr" x="1048.0" y="1140.9"/>
<use href="#mr" x="1045.0" y="1142.3"/>
<use href="#mr" x="1042.0" y="1140.6"/>
<use href="#mr" x="1038.9" y="1141.8"/>
<use href="#mr" x="1035.9" y="1140.8"/>
<use href="#mr" x="1032.8" y="1143.3"/>
<use href="#mr" x="1029.8" y="1142.6"/>
<use href="#mr" x="1026.8" y="1143.5"/>
<use href="#mr" x="1023.7" y="1142.6"/>
<use href="#mr" x="1020.7" y="1144.7"/>
<use href="#mr" x="1017.6" y="1145.0"/>
<use href="#mr" x="1014.6" y="1143.2"/>
<use href="#mr" x="1011.5" y="1143.8"/>
<use href="#mr" x="1008.5" y="1143.4"/>
<use href="#mr" x="1005.5" y="1145.3"/>
<use href="#mr" x="1002.4" y="1144.5"/>
<use href="#mr" x="999.4" y="1144.1"/>
<use href="#mr" x="996.3" y="1146.4"/>
<use href="#mr" x="993.3" y="1145.2"/>
<use href="#mr" x="990.2" y="1146.1"/>
<use href="#mr" x="987.2" y="1145.5"/>
<use href="#mr" x="984.2" y="1147.7"/>
<use href="#mr" x="981.1" y="1146.8"/>
<use href="#mr" x="978.1" y="1147.3"/>
<use href="#mr" x="975.0" y="1148.0"/>
<use href="#mr" x="972.0" y="1148.2"/>
<use href="#mr" x="968.9" y="1147.1"/>
<use href="#mr" x="965.9" y="1147.5"/>
<use href="#mr" x="962.9" y="1149.5"/>
<use href="#mr" x="959.8" y="1150.1"/>
<use href="#mr" x="956.8" y="1148.3"/>
<use href="#mr" x="953.7" y="1148.8"/>
<use href="#mr" x="950.7" y="1150.6"/>
<use href="#mr" x="947.6" y="1150.3"/>
<use href="#mr" x="944.6" y="1150.0"/>
<use href="#mr" x="941.6" y="1149.6"/>
<use href="#mr" x="938.5" y="1150.2"/>
<use href="#mr" x="935.5" y="1152.0"/>
<use href="#mr" x="932.4" y="1152.3"/>
<use href="#mr" x="929.4" y="1152.0"/>
<use href="#mr" x="926.3" y="1150.5"/>
<use href="#mr" x="923.3" y="1151.0"/>
<use href="#mr" x="920.3" y="1150.9"/>
<use href="#mr" x="917.2" y="1152.9"/>
<use href="#mr" x="914.2" y="1150.9"/>
<use href="#mr" x="911.1" y="1152.2"/>
<use href="#mr" x="908.1" y="1152.4"/>
<use href="#mr" x="905.0" y="1152.9"/>
<use href="#mr" x="902.0" y="1151.3"/>
<use href="#mr" x="899.0" y="1152.3"/>
<use href="#mr" x="895.9" y="1151.2"/>
<use href="#mr" x="892.9" y="1150.9"/>
<use href="#mr" x="889.8" y="1151.3"/>
<use href="#mr" x="886.8" y="1152.7"/>
<use href="#mr" x="883.7" y="1151.0"/>
<use href="#mr" x="880.7" y="1152.2"/>
<use href="#mr" x="877.7" y="1150.6"/>
<use href="#mr" x="874.6" y="1152.7"/>
<use href="#mr" x="871.6" y="1151.9"/>
<use href="#mr" x="868.5" y="1150.3"/>
<use href="#mr" x="865.5" y="1150.7"/>
<use href="#mr" x="862.5" y="1151.8"/>
<use href="#mr" x="859.4" y="1151.9"/>
<use href="#mr" x="856.4" y="1150.0"/>
<use href="#mr" x="853.3" y="1150.6"/>
<use href="#mr" x="850.3" y="1149.3"/>
<use href="#mr" x="847.2" y="1151.5"/>
<use href="#mr" x="844.2" y="1151.3"/>
<use href="#mr" x="841.2" y="1150.9"/>
<use href="#mr" x="838.1" y="1149.6"/>
<use href="#mr" x="835.1" y="1147.8"/>
<use href="#mr" x="832.0" y="1148.3"/>
<use href="#mr" x="829.0" y="1148.9"/>
<use href="#mr" x="825.9" y="1147.9"/>
<use href="#mr" x="822.9" y="1146.9"/>
<use href="#mr" x="819.9" y="1146.2"/>
<use href="#mr" x="816.8" y="1147.0"/>
<use href="#mr" x="813.8" y="1146.6"/>
<use href="#mr" x="810.7" y="1144.7"/>
<use href="#mr" x="807.7" y="1144.6"/>
<use href="#mr" x="804.6" y="1142.2"/>
<use href="#mr" x="801.6" y="1140.5"/>
<use href="#mr" x="798.6" y="1141.5"/>
<use href="#mr" x="795.5" y="1139.9"/>
<use href="#mr" x="792.5" y="1138.0"/>
<use href="#mr" x="789.4" y="1135.3"/>
<use href="#mr" x="786.4" y="1132.9"/>
<use href="#mr" x="783.3" y="1129.7"/>
<use href="#mr" x="780.3" y="1126.6"/>
<use href="#mr" x="777.3" y="1125.0"/>
<use href="#mr" x="774.2" y="1122.9"/>
<use href="#mr" x="771.2" y="1117.7"/>
<use href="#mr" x="768.1" y="1112.5"/>
<use href="#mr" x="765.1" y="1107.3"/>
<use href="#mr" x="762.0" y="1102.6"/>
<use href="#mr" x="759.0" y="1098.2"/>
<use href="#mr" x="756.0" y="1093.6"/>
<use href="#mr" x="752.9" y="1088.0"/>
<use href="#mr" x="749.9" y="1080.1"/>
<use href="#mr" x="746.8" y="1069.0"/>
<use href="#mr" x="743.8" y="1055.3"/>
<use href="#mr" x="740.7" y="1040.5"/>
<use href="#mr" x="737.7" y="1021.2"/>
<use href="#mr" x="734.7" y="1001.9"/>
<use href="#mr" x="731.6" y="982.6"/>
<use href="#mr" x="728.6" y="962.1"/>
<use href="#mr" x="725.5" y="935.0"/>
<use href="#mr" x="722.5" y="905.0"/>
<use href="#mr" x="719.4" y="869.9"/>
<use href="#mr" x="716.4" y="840.0"/>
<use href="#mr" x="713.4" y="804.4"/>
<use href="#pr" x="710.3" y="768.3"/>
<use href="#pr" x="707.3" y="710.6"/>
<use href="#pr" x="701.2" y="603.3"/>
<use href="#pr" x="695.1" y="563.8"/>
<use href="#pr" x="689.0" y="521.1"/>
<use href="#pr" x="686.0" y="520.0"/>
<use href="#pr" x="682.9" y="518.0"/>
<use href="#pr" x="676.9" y="490.0"/>
<use href="#pr" x="673.8" y="510.4"/>
<use href="#pr" x="670.8" y="478.1"/>
<use href="#pr" x="667.7" y="472.5"/>
<use href="#pr" x="664.7" y="467.4"/>
<use href="#pr" x="661.6" y="462.4"/>
<use href="#pr" x="658.6" y="457.3"/>
<use href="#pr" x="655.6" y="451.7"/>
<use href="#pr" x="652.5" y="470.1"/>
<use href="#pr" x="649.5" y="440.3"/>
<use href="#pr" x="646.4" y="446.7"/>
<use href="#pr" x="643.4" y="430.1"/>
<use href="#pr" x="640.3" y="425.5"/>
<use href="#pr" x="634.3" y="426.1"/>
<use href="#pr" x="628.2" y="420.2"/>
<use href="#pr" x="622.1" y="395.8"/>
<use href="#pr" x="619.0" y="390.6"/>
<use href="#pr" x="609.9" y="376.3"/>
<use href="#pr" x="606.9" y="372.5"/>
<use href="#pr" x="603.8" y="368.8"/>
<use href="#pr" x="594.7" y="376.4"/>
<use href="#pr" x="591.7" y="353.6"/>
<use href="#pr" x="588.6" y="383.0"/>
<use href="#pr" x="585.6" y="380.7"/>
<use href="#pr" x="582.5" y="370.0"/>
<use href="#pr" x="576.4" y="335.0"/>
<use href="#pr" x="570.4" y="320.9"/>
<use href="#pr" x="561.2" y="320.0"/>
<use href="#pr" x="552.1" y="286.1"/>
<use href="#pr" x="533.9" y="268.1"/>
<use href="#pr" x="524.7" y="268.3"/>
<use href="#pr" x="521.7" y="265.8"/>
<use href="#pr" x="515.6" y="285.7"/>
<use href="#pr" x="509.5" y="296.0"/>
<use href="#pr" x="506.5" y="253.4"/>
<use href="#pr" x="503.4" y="275.8"/>
<use href="#pr" x="500.4" y="248.5"/>
<use href="#pr" x="494.3" y="243.5"/>
<use href="#pr" x="491.3" y="265.9"/>
<use href="#pr" x="485.2" y="261.0"/>
<use href="#pr" x="482.1" y="233.6"/>
<use href="#pr" x="479.1" y="256.0"/>
<use href="#pr" x="473.0" y="251.0"/>
<use href="#pr" x="470.0" y="223.6"/>
<use href="#pr" x="463.9" y="218.6"/>
<use href="#pr" x="454.7" y="240.1"/>
<use href="#pr" x="567.3" y="298.5"/>
<use href="#pr" x="521.7" y="294.9"/>
<use href="#pr" x="524.7" y="298.0"/>
<use href="#pr" x="515.6" y="261.0"/>
<use href="#mr" x="704.2" y="618.4"/>
<use href="#mr" x="698.2" y="597.9"/>
<use href="#mr" x="692.1" y="558.7"/>
<use href="#mr" x="679.9" y="516.5"/>
<use href="#mr" x="637.3" y="441.2"/>
<use href="#mr" x="631.2" y="429.3"/>
<use href="#mr" x="625.1" y="448.0"/>
<use href="#mr" x="616.0" y="419.6"/>
<use href="#mr" x="613.0" y="376.2"/>
<use href="#mr" x="600.8" y="387.9"/>
<use href="#mr" x="597.7" y="404.8"/>
<use href="#mr" x="579.5" y="366.6"/>
<use href="#mr" x="573.4" y="331.0"/>
<use href="#mr" x="567.3" y="348.2"/>
<use href="#mr" x="564.3" y="287.9"/>
<use href="#mr" x="558.2" y="273.4"/>
<use href="#mr" x="555.1" y="301.7"/>
<use href="#mr" x="549.1" y="283.6"/>
<use href="#mr" x="546.0" y="247.4"/>
<use href="#mr" x="543.0" y="225.4"/>
<use href="#mr" x="539.9" y="193.5"/>
<use href="#mr" x="536.9" y="267.8"/>
<use href="#mr" x="530.8" y="325.4"/>
<use href="#mr" x="527.8" y="283.9"/>
<use href="#mr" x="518.6" y="264.4"/>
<use href="#mr" x="512.6" y="280.5"/>
<use href="#mr" x="497.3" y="303.3"/>
<use href="#mr" x="488.2" y="275.7"/>
<use href="#mr" x="476.0" y="257.6"/>
<use href="#mr" x="466.9" y="272.3"/>
<use href="#mr" x="460.8" y="236.1"/>
<use href="#mr" x="457.8" y="215.8"/>
<use href="#mr" x="451.7" y="247.0"/></g>
<g><use href="#mg" x="1973.0" y="908.7"/>
<use href="#mg" x="1970.0" y="908.0"/>
<use href="#mg" x="1966.9" y="908.5"/>
<use href="#mg" x="1963.9" y="907.7"/>
<use href="#mg" x="1960.8" y="909.3"/>
<use href="#mg" x="1957.8" y="908.4"/>
<use href="#mg" x="1954.7" y="907.6"/>
<use href="#mg" x="1951.7" y="908.3"/>
<use href="#mg" x="1948.7" y="907.0"/>
<use href="#mg" x="1945.6" y="909.3"/>
<use href="#mg" x="1942.6" y="907.4"/>
<use href="#mg" x="1939.5" y="907.6"/>
<use href="#mg" x="1936.5" y="908.0"/>
<use href="#mg" x="1933.4" y="908.1"/>
<use href="#mg" x="1930.4" y="908.0"/>
<use href="#mg" x="1927.4" y="907.8"/>
<use href="#mg" x="1924.3" y="908.1"/>
<use href="#mg" x="1921.3" y="909.2"/>
<use href="#mg" x="1918.2" y="908.0"/>
<use href="#mg" x="1915.2" y="907.7"/>
<use href="#mg" x="1912.1" y="908.5"/>
<use href="#mg" x="1909.1" y="907.1"/>
<use href="#mg" x="1906.1" y="907.1"/>
<use href="#mg" x="1903.0" y="909.3"/>
<use href="#mg" x="1900.0" y="908.3"/>
<use href="#mg" x="1896.9" y="907.4"/>
<use href="#mg" x="1893.9" y="908.4"/>
<use href="#mg" x="1890.8" y="907.5"/>
<use href="#mg" x="1887.8" y="908.8"/>
<use href="#mg" x="1884.8" y="908.6"/>
<use href="#mg" x="1881.7" y="908.4"/>
<use href="#mg" x="1878.7" y="909.0"/>
<use href="#mg" x="1875.6" y="909.7"/>
<use href="#mg" x="1872.6" y="909.4"/>
<use href="#mg" x="1869.6" y="907.2"/>
<use href="#mg" x="1866.5" y="907.3"/>
<use href="#mg" x="1863.5" y="909.8"/>
<use href="#mg" x="1860.4" y="907.4"/>
<use href="#mg" x="1857.4" y="908.0"/>
<use href="#mg" x="1854.3" y="907.5"/>
<use href="#mg" x="1851.3" y="908.7"/>
<use href="#mg" x="1848.3" y="907.4"/>
<use href="#mg" x="1845.2" y="909.0"/>
<use href="#mg" x="1842.2" y="909.0"/>
<use href="#mg" x="1839.1" y="909.8"/>
<use href="#mg" x="1836.1" y="908.7"/>
<use href="#mg" x="1833.0" y="908.6"/>
<use href="#mg" x="1830.0" y="908.0"/>
<use href="#mg" x="1827.0" y="909.6"/>
<use href="#mg" x="1823.9" y="909.9"/>
<use href="#mg" x="1820.9" y="910.9"/>
<use href="#mg" x="1817.8" y="909.4"/>
<use href="#mg" x="1814.8" y="910.5"/>
<use href="#mg" x="1811.7" y="910.3"/>
<use href="#mg" x="1808.7" y="910.3"/>
<use href="#mg" x="1805.7" y="911.5"/>
<use href="#mg" x="1802.6" y="910.8"/>
<use href="#mg" x="1799.6" y="910.7"/>
<use href="#mg" x="1796.5" y="911.8"/>
<use href="#mg" x="1793.5" y="911.1"/>
<use href="#mg" x="1790.4" y="911.9"/>
<use href="#mg" x="1787.4" y="913.5"/>
<use href="#mg" x="1784.4" y="912.5"/>
<use href="#mg" x="1781.3" y="912.7"/>
<use href="#mg" x="1778.3" y="911.8"/>
<use href="#mg" x="1775.2" y="913.3"/>
<use href="#mg" x="1772.2" y="913.3"/>
<use href="#mg" x="1769.1" y="912.7"/>
<use href="#mg" x="1766.1" y="914.9"/>
<use href="#mg" x="1763.1" y="913.8"/>
<use href="#mg" x="1760.0" y="914.6"/>
<use href="#mg" x="1757.0" y="913.7"/>
<use href="#mg" x="1753.9" y="916.3"/>
<use href="#mg" x="1750.9" y="914.5"/>
<use href="#mg" x="1747.8" y="915.1"/>
<use href="#mg" x="1744.8" y="917.3"/>
<use href="#mg" x="1741.8" y="916.1"/>
<use href="#mg" x="1738.7" y="915.3"/>
<use href="#mg" x="1735.7" y="916.9"/>
<use href="#mg" x="1732.6" y="916.0"/>
<use href="#mg" x="1729.6" y="917.2"/>
<use href="#mg" x="1726.5" y="916.8"/>
<use href="#mg" x="1723.5" y="918.3"/>
<use href="#mg" x="1720.5" y="917.2"/>
<use href="#mg" x="1717.4" y="919.0"/>
<use href="#mg" x="1714.4" y="918.8"/>
<use href="#mg" x="1711.3" y="919.8"/>
<use href="#mg" x="1708.3" y="919.9"/>
<use href="#mg" x="1705.3" y="919.3"/>
<use href="#mg" x="1702.2" y="921.2"/>
<use href="#mg" x="1699.2" y="921.9"/>
<use href="#mg" x="1696.1" y="920.1"/>
<use href="#mg" x="1693.1" y="921.2"/>
<use href="#mg" x="1690.0" y="920.8"/>
<use href="#mg" x="1687.0" y="921.2"/>
<use href="#mg" x="1684.0" y="922.3"/>
<use href="#mg" x="1680.9" y="923.2"/>
<use href="#mg" x="1677.9" y="923.0"/>
<use href="#mg" x="1674.8" y="923.2"/>
<use href="#mg" x="1671.8" y="923.5"/>
<use href="#mg" x="1668.7" y="924.8"/>
<use href="#mg" x="1665.7" y="924.8"/>
<use href="#mg" x="1662.7" y="925.8"/>
<use href="#mg" x="1659.6" y="926.3"/>
<use href="#mg" x="1656.6" y="924.4"/>
<use href="#mg" x="1653.5" y="926.3"/>
<use href="#mg" x="1650.5" y="926.7"/>
<use href="#mg" x="1647.4" y="927.0"/>
<use href="#mg" x="1644.4" y="926.5"/>
<use href="#mg" x="1641.4" y="926.8"/>
<use href="#mg" x="1638.3" y="927.9"/>
<use href="#mg" x="1635.3" y="926.8"/>
<use href="#mg" x="1632.2" y="928.6"/>
<use href="#mg" x="1629.2" y="929.3"/>
<use href="#mg" x="1626.1" y="928.1"/>
<use href="#mg" x="1623.1" y="929.8"/>
<use href="#mg" x="1620.1" y="930.3"/>
<use href="#mg" x="1617.0" y="928.2"/>
<use href="#mg" x="1614.0" y="930.3"/>
<use href="#mg" x="1610.9" y="930.8"/>
<use href="#mg" x="1607.9" y="930.8"/>
<use href="#mg" x="1604.8" y="929.8"/>
<use href="#mg" x="1601.8" y="930.4"/>
<use href="#mg" x="1598.8" y="931.7"/>
<use href="#mg" x="1595.7" y="932.7"/>
<use href="#mg" x="1592.7" y="932.6"/>
<use href="#mg" x="1589.6" y="932.4"/>
<use href="#mg" x="1586.6" y="931.5"/>
<use href="#mg" x="1583.5" y="931.5"/>
<use href="#mg" x="1580.5" y="934.0"/>
<use href="#mg" x="1577.5" y="932.7"/>
<use href="#mg" x="1574.4" y="933.3"/>
<use href="#mg" x="1571.4" y="934.2"/>
<use href="#mg" x="1568.3" y="933.5"/>
<use href="#mg" x="1565.3" y="935.9"/>
<use href="#mg" x="1562.2" y="934.2"/>
<use href="#mg" x="1559.2" y="935.8"/>
<use href="#mg" x="1556.2" y="936.1"/>
<use href="#mg" x="1553.1" y="935.5"/>
<use href="#mg" x="1550.1" y="936.3"/>
<use href="#mg" x="1547.0" y="937.4"/>
<use href="#mg" x="1544.0" y="938.0"/>
<use href="#mg" x="1541.0" y="936.2"/>
<use href="#mg" x="1537.9" y="937.7"/>
<use href="#mg" x="1534.9" y="939.4"/>
<use href="#mg" x="1531.8" y="937.2"/>
<use href="#mg" x="1528.8" y="937.8"/>
<use href="#mg" x="1525.7" y="938.1"/>
<use href="#mg" x="1522.7" y="938.3"/>
<use href="#mg" x="1519.7" y="940.2"/>
<use href="#mg" x="1516.6" y="940.1"/>
<use href="#mg" x="1513.6" y="940.2"/>
<use href="#mg" x="1510.5" y="941.1"/>
<use href="#mg" x="1507.5" y="940.1"/>
<use href="#mg" x="1504.4" y="942.0"/>
<use href="#mg" x="1501.4" y="941.5"/>
<use href="#mg" x="1498.4" y="941.7"/>
<use href="#mg" x="1495.3" y="943.6"/>
<use href="#mg" x="1492.3" y="943.6"/>
<use href="#mg" x="1489.2" y="944.1"/>
<use href="#mg" x="1486.2" y="944.2"/>
<use href="#mg" x="1483.1" y="944.6"/>
<use href="#mg" x="1480.1" y="944.6"/>
<use href="#mg" x="1477.1" y="944.9"/>
<use href="#mg" x="1474.0" y="945.9"/>
<use href="#mg" x="1471.0" y="944.3"/>
<use href="#mg" x="1467.9" y="947.1"/>
<use href="#mg" x="1464.9" y="946.3"/>
<use href="#mg" x="1461.8" y="947.7"/>
<use href="#mg" x="1458.8" y="948.2"/>
<use href="#mg" x="1455.8" y="948.2"/>
<use href="#mg" x="1452.7" y="948.2"/>
<use href="#mg" x="1449.7" y="949.0"/>
<use href="#mg" x="1446.6" y="949.2"/>
<use href="#mg" x="1443.6" y="949.6"/>
<use href="#mg" x="1440.5" y="950.6"/>
<use href="#mg" x="1437.5" y="950.0"/>
<use href="#mg" x="1434.5" y="949.9"/>
<use href="#mg" x="1431.4" y="949.2"/>
<use href="#mg" x="1428.4" y="951.5"/>
<use href="#mg" x="1425.3" y="952.4"/>
<use href="#mg" x="1422.3" y="951.5"/>
<use href="#mg" x="1419.2" y="951.4"/>
<use href="#mg" x="1416.2" y="951.1"/>
<use href="#mg" x="1413.2" y="953.2"/>
<use href="#mg" x="1410.1" y="953.4"/>
<use href="#mg" x="1407.1" y="953.5"/>
<use href="#mg" x="1404.0" y="953.4"/>
<use href="#mg" x="1401.0" y="953.0"/>
<use href="#mg" x="1397.9" y="955.2"/>
<use href="#mg" x="1394.9" y="953.9"/>
<use href="#mg" x="1391.9" y="954.4"/>
<use href="#mg" x="1388.8" y="956.4"/>
<use href="#mg" x="1385.8" y="957.1"/>
<use href="#mg" x="1382.7" y="955.8"/>
<use href="#mg" x="1379.7" y="957.1"/>
<use href="#mg" x="1376.7" y="955.8"/>
<use href="#mg" x="1373.6" y="958.2"/>
<use href="#mg" x="1370.6" y="958.8"/>
<use href="#mg" x="1367.5" y="958.3"/>
<use href="#mg" x="1364.5" y="959.6"/>
<use href="#mg" x="1361.4" y="957.6"/>
<use href="#mg" x="1358.4" y="960.2"/>
<use href="#mg" x="1355.4" y="959.4"/>
<use href="#mg" x="1352.3" y="959.8"/>
<use href="#mg" x="1349.3" y="960.5"/>
<use href="#mg" x="1346.2" y="960.2"/>
<use href="#mg" x="1343.2" y="960.6"/>
<use href="#mg" x="1340.1" y="960.7"/>
<use href="#mg" x="1337.1" y="960.2"/>
<use href="#mg" x="1334.1" y="960.3"/>
<use href="#mg" x="1331.0" y="962.6"/>
<use href="#mg" x="1328.0" y="962.4"/>
<use href="#mg" x="1324.9" y="962.0"/>
<use href="#mg" x="1321.9" y="963.8"/>
<use href="#mg" x="1318.8" y="962.5"/>
<use href="#mg" x="1315.8" y="962.2"/>
<use href="#mg" x="1312.8" y="962.3"/>
<use href="#mg" x="1309.7" y="962.8"/>
<use href="#mg" x="1306.7" y="963.4"/>
<use href="#mg" x="1303.6" y="963.8"/>
<use href="#mg" x="1300.6" y="963.7"/>
<use href="#mg" x="1297.5" y="963.6"/>
<use href="#mg" x="1294.5" y="963.9"/>
<use href="#mg" x="1291.5" y="965.9"/>
<use href="#mg" x="1288.4" y="964.8"/>
<use href="#mg" x="1285.4" y="965.7"/>
<use href="#mg" x="1282.3" y="966.3"/>
<use href="#mg" x="1279.3" y="967.4"/>
<use href="#mg" x="1276.2" y="966.7"/>
<use href="#mg" x="1273.2" y="968.2"/>
<use href="#mg" x="1270.2" y="967.4"/>
<use href="#mg" x="1267.1" y="967.2"/>
<use href="#mg" x="1264.1" y="966.5"/>
<use href="#mg" x="1261.0" y="967.1"/>
<use href="#mg" x="1258.0" y="967.8"/>
<use href="#mg" x="1254.9" y="969.5"/>
<use href="#mg" x="1251.9" y="969.9"/>
<use href="#mg" x="1248.9" y="968.5"/>
<use href="#mg" x="1245.8" y="970.4"/>
<use href="#mg" x="1242.8" y="969.2"/>
<use href="#mg" x="1239.7" y="970.0"/>
<use href="#mg" x="1236.7" y="971.0"/>
<use href="#mg" x="1233.6" y="971.6"/>
<use href="#mg" x="1230.6" y="971.7"/>
<use href="#mg" x="1227.6" y="971.7"/>
<use href="#mg" x="1224.5" y="971.4"/>
<use href="#mg" x="1221.5" y="972.9"/>
<use href="#mg" x="1218.4" y="972.3"/>
<use href="#mg" x="1215.4" y="971.7"/>
<use href="#mg" x="1212.4" y="973.9"/>
<use href="#mg" x="1209.3" y="972.5"/>
<use href="#mg" x="1206.3" y="972.8"/>
<use href="#mg" x="1203.2" y="974.6"/>
<use href="#mg" x="1200.2" y="973.0"/>
<use href="#mg" x="1197.1" y="974.0"/>
<use href="#mg" x="1194.1" y="975.4"/>
<use href="#mg" x="1191.1" y="975.1"/>
<use href="#mg" x="1188.0" y="974.5"/>
<use href="#mg" x="1185.0" y="976.4"/>
<use href="#mg" x="1181.9" y="976.1"/>
<use href="#mg" x="1178.9" y="975.1"/>
<use href="#mg" x="1175.8" y="976.6"/>
<use href="#mg" x="1172.8" y="976.2"/>
<use href="#mg" x="1169.8" y="975.6"/>
<use href="#mg" x="1166.7" y="977.3"/>
<use href="#mg" x="1163.7" y="977.0"/>
<use href="#mg" x="1160.6" y="978.3"/>
<use href="#mg" x="1157.6" y="978.2"/>
<use href="#mg" x="1154.5" y="977.3"/>
<use href="#mg" x="1151.5" y="977.6"/>
<use href="#mg" x="1148.5" y="977.9"/>
<use href="#mg" x="1145.4" y="977.7"/>
<use href="#mg" x="1142.4" y="979.7"/>
<use href="#mg" x="1139.3" y="979.3"/>
<use href="#mg" x="1136.3" y="980.5"/>
<use href="#mg" x="1133.2" y="980.9"/>
<use href="#mg" x="1130.2" y="979.1"/>
<use href="#mg" x="1127.2" y="979.5"/>
<use href="#mg" x="1124.1" y="981.2"/>
<use href="#mg" x="1121.1" y="979.7"/>
<use href="#mg" x="1118.0" y="980.0"/>
<use href="#mg" x="1115.0" y="980.9"/>
<use href="#mg" x="1111.9" y="981.8"/>
<use href="#mg" x="1108.9" y="980.8"/>
<use href="#mg" x="1105.9" y="980.9"/>
<use href="#mg" x="1102.8" y="983.0"/>
<use href="#mg" x="1099.8" y="982.8"/>
<use href="#mg" x="1096.7" y="983.7"/>
<use href="#mg" x="1093.7" y="982.0"/>
<use href="#mg" x="1090.6" y="981.9"/>
<use href="#mg" x="1087.6" y="982.3"/>
<use href="#mg" x="1084.6" y="982.8"/>
<use href="#mg" x="1081.5" y="983.5"/>
<use href="#mg" x="1078.5" y="983.2"/>
<use href="#mg" x="1075.4" y="984.5"/>
<use href="#mg" x="1072.4" y="985.2"/>
<use href="#mg" x="1069.3" y="986.7"/>
<use href="#mg" x="1066.3" y="986.3"/>
<use href="#mg" x="1063.3" y="985.7"/>
<use href="#mg" x="1060.2" y="985.9"/>
<use href="#mg" x="1057.2" y="985.6"/>
<use href="#mg" x="1054.1" y="985.2"/>
<use href="#mg" x="1051.1" y="986.6"/>
<use href="#mg" x="1048.0" y="985.8"/>
<use href="#mg" x="1045.0" y="987.8"/>
<use href="#mg" x="1042.0" y="988.7"/>
<use href="#mg" x="1038.9" y="988.8"/>
<use href="#mg" x="1035.9" y="988.0"/>
<use href="#mg" x="1032.8" y="990.1"/>
<use href="#mg" x="1029.8" y="987.8"/>
<use href="#mg" x="1026.8" y="991.1"/>
<use href="#mg" x="1023.7" y="991.5"/>
<use href="#mg" x="1020.7" y="989.6"/>
<use href="#mg" x="1017.6" y="990.8"/>
<use href="#mg" x="1014.6" y="989.8"/>
<use href="#mg" x="1011.5" y="991.6"/>
<use href="#mg" x="1008.5" y="990.5"/>
<use href="#mg" x="1005.5" y="991.1"/>
<use href="#mg" x="1002.4" y="992.3"/>
<use href="#mg" x="999.4" y="993.1"/>
<use href="#mg" x="996.3" y="991.2"/>
<use href="#mg" x="993.3" y="993.1"/>
<use href="#mg" x="990.2" y="992.3"/>
<use href="#mg" x="987.2" y="992.5"/>
<use href="#mg" x="984.2" y="993.0"/>
<use href="#mg" x="981.1" y="994.2"/>
<use href="#mg" x="978.1" y="995.5"/>
<use href="#mg" x="975.0" y="996.3"/>
<use href="#mg" x="972.0" y="994.8"/>
<use href="#mg" x="968.9" y="995.2"/>
<use href="#mg" x="965.9" y="995.8"/>
<use href="#mg" x="962.9" y="996.2"/>
<use href="#mg" x="959.8" y="997.4"/>
<use href="#mg" x="956.8" y="996.8"/>
<use href="#mg" x="953.7" y="995.0"/>
<use href="#mg" x="950.7" y="996.8"/>
<use href="#mg" x="947.6" y="998.5"/>
<use href="#mg" x="944.6" y="997.4"/>
<use href="#mg" x="941.6" y="998.6"/>
<use href="#mg" x="938.5" y="997.0"/>
<use href="#mg" x="935.5" y="1000.4"/>
<use href="#mg" x="932.4" y="998.7"/>
<use href="#mg" x="929.4" y="1000.3"/>
<use href="#mg" x="926.3" y="1002.4"/>
<use href="#mg" x="923.3" y="1002.7"/>
<use href="#mg" x="920.3" y="1003.3"/>
<use href="#mg" x="917.2" y="1001.1"/>
<use href="#mg" x="914.2" y="1002.7"/>
<use href="#mg" x="911.1" y="1004.8"/>
<use href="#mg" x="908.1" y="1005.0"/>
<use href="#mg" x="905.0" y="1002.2"/>
<use href="#mg" x="902.0" y="1005.1"/>
<use href="#mg" x="899.0" y="1006.6"/>
<use href="#mg" x="895.9" y="1002.9"/>
<use href="#mg" x="892.9" y="1004.1"/>
<use href="#mg" x="889.8" y="1004.0"/>
<use href="#mg" x="886.8" y="1007.2"/>
<use href="#mg" x="883.7" y="1004.0"/>
<use href="#mg" x="880.7" y="1008.3"/>
<use href="#mg" x="877.7" y="1006.0"/>
<use href="#mg" x="874.6" y="1008.7"/>
<use href="#mg" x="871.6" y="1010.1"/>
<use href="#mg" x="868.5" y="1005.0"/>
<use href="#mg" x="865.5" y="1006.2"/>
<use href="#mg" x="862.5" y="1008.2"/>
<use href="#mg" x="859.4" y="1009.0"/>
<use href="#mg" x="856.4" y="1010.4"/>
<use href="#mg" x="853.3" y="1011.2"/>
<use href="#mg" x="850.3" y="1011.2"/>
<use href="#mg" x="847.2" y="1012.7"/>
<use href="#mg" x="844.2" y="1012.5"/>
<use href="#mg" x="841.2" y="1012.1"/>
<use href="#mg" x="838.1" y="1010.4"/>
<use href="#mg" x="835.1" y="1014.4"/>
<use href="#mg" x="832.0" y="1013.0"/>
<use href="#mg" x="829.0" y="1014.2"/>
<use href="#mg" x="825.9" y="1013.8"/>
<use href="#mg" x="822.9" y="1013.5"/>
<use href="#mg" x="819.9" y="1010.6"/>
<use href="#mg" x="816.8" y="1011.4"/>
<use href="#mg" x="813.8" y="1011.7"/>
<use href="#mg" x="810.7" y="1010.8"/>
<use href="#mg" x="807.7" y="1013.2"/>
<use href="#mg" x="804.6" y="1010.0"/>
<use href="#mg" x="801.6" y="1008.3"/>
<use href="#mg" x="798.6" y="1009.4"/>
<use href="#mg" x="795.5" y="1009.4"/>
<use href="#mg" x="792.5" y="1009.8"/>
<use href="#mg" x="789.4" y="1006.0"/>
<use href="#mg" x="786.4" y="1009.8"/>
<use href="#mg" x="783.3" y="1008.6"/>
<use href="#mg" x="780.3" y="1006.2"/>
<use href="#mg" x="777.3" y="1003.5"/>
<use href="#mg" x="774.2" y="1006.5"/>
<use href="#mg" x="771.2" y="1003.6"/>
<use href="#mg" x="768.1" y="1001.1"/>
<use href="#mg" x="765.1" y="1000.0"/>
<use href="#mg" x="762.0" y="998.1"/>
<use href="#mg" x="759.0" y="998.8"/>
<use href="#mg" x="756.0" y="992.8"/>
<use href="#mg" x="752.9" y="988.2"/>
<use href="#mg" x="749.9" y="985.5"/>
<use href="#mg" x="746.8" y="978.3"/>
<use href="#mg" x="743.8" y="972.4"/>
<use href="#mg" x="740.7" y="966.7"/>
<use href="#mg" x="737.7" y="955.8"/>
<use href="#mg" x="734.7" y="943.9"/>
<use href="#mg" x="731.6" y="927.9"/>
<use href="#mg" x="728.6" y="915.4"/>
<use href="#mg" x="725.5" y="897.2"/>
<use href="#mg" x="722.5" y="876.8"/>
<use href="#mg" x="719.4" y="856.3"/>
<use href="#mg" x="716.4" y="832.4"/>
<use href="#mg" x="713.4" y="808.5"/>
<use href="#mg" x="710.3" y="778.9"/>
<use href="#mg" x="707.3" y="754.1"/>
<use href="#pg" x="704.2" y="729.1"/>
<use href="#pg" x="701.2" y="725.3"/>
<use href="#pg" x="698.2" y="699.3"/>
<use href="#pg" x="695.1" y="670.0"/>
<use href="#pg" x="692.1" y="659.2"/>
<use href="#pg" x="689.0" y="648.5"/>
<use href="#pg" x="686.0" y="637.2"/>
<use href="#pg" x="682.9" y="625.9"/>
<use href="#pg" x="679.9" y="617.4"/>
<use href="#pg" x="676.9" y="609.0"/>
<use href="#pg" x="673.8" y="591.1"/>
<use href="#pg" x="670.8" y="573.1"/>
<use href="#pg" x="667.7" y="589.6"/>
<use href="#pg" x="664.7" y="569.4"/>
<use href="#pg" x="661.6" y="566.9"/>
<use href="#pg" x="655.6" y="577.6"/>
<use href="#pg" x="652.5" y="568.1"/>
<use href="#pg" x="649.5" y="587.8"/>
<use href="#pg" x="646.4" y="571.4"/>
<use href="#pg" x="643.4" y="573.1"/>
<use href="#pg" x="640.3" y="573.1"/>
<use href="#pg" x="637.3" y="573.1"/>
<use href="#pg" x="634.3" y="573.1"/>
<use href="#pg" x="631.2" y="573.1"/>
<use href="#pg" x="628.2" y="590.5"/>
<use href="#pg" x="625.1" y="573.1"/>
<use href="#pg" x="622.1" y="578.4"/>
<use href="#pg" x="619.0" y="566.9"/>
<use href="#pg" x="613.0" y="575.8"/>
<use href="#pg" x="609.9" y="566.2"/>
<use href="#pg" x="606.9" y="567.5"/>
<use href="#pg" x="603.8" y="566.4"/>
<use href="#pg" x="600.8" y="565.2"/>
<use href="#pg" x="597.7" y="564.1"/>
<use href="#pg" x="594.7" y="563.0"/>
<use href="#pg" x="591.7" y="561.8"/>
<use href="#pg" x="588.6" y="561.0"/>
<use href="#pg" x="585.6" y="560.1"/>
<use href="#pg" x="582.5" y="568.5"/>
<use href="#pg" x="579.5" y="565.2"/>
<use href="#pg" x="576.4" y="557.4"/>
<use href="#pg" x="573.4" y="556.5"/>
<use href="#pg" x="570.4" y="555.6"/>
<use href="#pg" x="567.3" y="554.7"/>
<use href="#pg" x="564.3" y="553.8"/>
<use href="#pg" x="561.2" y="552.9"/>
<use href="#pg" x="558.2" y="563.4"/>
<use href="#pg" x="552.1" y="546.6"/>
<use href="#pg" x="549.1" y="561.9"/>
<use href="#pg" x="546.0" y="542.4"/>
<use href="#pg" x="543.0" y="540.3"/>
<use href="#pg" x="539.9" y="551.4"/>
<use href="#pg" x="536.9" y="550.2"/>
<use href="#pg" x="530.8" y="546.4"/>
<use href="#pg" x="527.8" y="552.0"/>
<use href="#pg" x="524.7" y="523.7"/>
<use href="#pg" x="521.7" y="520.3"/>
<use href="#pg" x="518.6" y="532.1"/>
<use href="#pg" x="515.6" y="523.9"/>
<use href="#pg" x="512.6" y="519.8"/>
<use href="#pg" x="509.5" y="503.6"/>
<use href="#pg" x="506.5" y="497.3"/>
<use href="#pg" x="503.4" y="505.8"/>
<use href="#pg" x="500.4" y="496.3"/>
<use href="#pg" x="497.3" y="496.8"/>
<use href="#pg" x="494.3" y="474.8"/>
<use href="#pg" x="491.3" y="487.9"/>
<use href="#pg" x="488.2" y="476.4"/>
<use href="#pg" x="485.2" y="462.5"/>
<use href="#pg" x="482.1" y="457.1"/>
<use href="#pg" x="479.1" y="451.7"/>
<use href="#pg" x="476.0" y="446.3"/>
<use href="#pg" x="473.0" y="460.0"/>
<use href="#pg" x="470.0" y="453.9"/>
<use href="#pg" x="466.9" y="430.0"/>
<use href="#pg" x="460.8" y="433.8"/>
<use href="#pg" x="457.8" y="450.8"/>
<use href="#pg" x="454.7" y="462.1"/>
<use href="#mg" x="658.6" y="564.4"/>
<use href="#mg" x="616.0" y="563.8"/>
<use href="#mg" x="555.1" y="589.2"/>
<use href="#mg" x="533.9" y="573.0"/>
<use href="#mg" x="463.9" y="424.6"/>
<use href="#mg" x="451.7" y="435.0"/></g>
<g><use href="#mo" x="1973.0" y="736.6"/>
<use href="#mo" x="1970.0" y="736.8"/>
<use href="#mo" x="1966.9" y="736.9"/>
<use href="#mo" x="1963.9" y="737.8"/>
<use href="#mo" x="1960.8" y="738.0"/>
<use href="#mo" x="1957.8" y="737.1"/>
<use href="#mo" x="1954.7" y="737.6"/>
<use href="#mo" x="1951.7" y="736.4"/>
<use href="#mo" x="1948.7" y="736.1"/>
<use href="#mo" x="1945.6" y="738.1"/>
<use href="#mo" x="1942.6" y="737.7"/>
<use href="#mo" x="1939.5" y="736.3"/>
<use href="#mo" x="1936.5" y="736.8"/>
<use href="#mo" x="1933.4" y="738.4"/>
<use href="#mo" x="1930.4" y="736.3"/>
<use href="#mo" x="1927.4" y="736.7"/>
<use href="#mo" x="1924.3" y="736.0"/>
<use href="#mo" x="1921.3" y="736.2"/>
<use href="#mo" x="1918.2" y="738.0"/>
<use href="#mo" x="1915.2" y="737.3"/>
<use href="#mo" x="1912.1" y="736.1"/>
<use href="#mo" x="1909.1" y="736.0"/>
<use href="#mo" x="1906.1" y="737.3"/>
<use href="#mo" x="1903.0" y="736.7"/>
<use href="#mo" x="1900.0" y="736.2"/>
<use href="#mo" x="1896.9" y="737.3"/>
<use href="#mo" x="1893.9" y="737.7"/>
<use href="#mo" x="1890.8" y="736.3"/>
<use href="#mo" x="1887.8" y="736.5"/>
<use href="#mo" x="1884.8" y="738.0"/>
<use href="#mo" x="1881.7" y="738.1"/>
<use href="#mo" x="1878.7" y="737.4"/>
<use href="#mo" x="1875.6" y="737.7"/>
<use href="#mo" x="1872.6" y="737.5"/>
<use href="#mo" x="1869.6" y="736.0"/>
<use href="#mo" x="1866.5" y="737.4"/>
<use href="#mo" x="1863.5" y="737.9"/>
<use href="#mo" x="1860.4" y="738.1"/>
<use href="#mo" x="1857.4" y="737.4"/>
<use href="#mo" x="1854.3" y="736.5"/>
<use href="#mo" x="1851.3" y="737.4"/>
<use href="#mo" x="1848.3" y="739.3"/>
<use href="#mo" x="1845.2" y="738.7"/>
<use href="#mo" x="1842.2" y="738.1"/>
<use href="#mo" x="1839.1" y="737.4"/>
<use href="#mo" x="1836.1" y="739.3"/>
<use href="#mo" x="1833.0" y="737.9"/>
<use href="#mo" x="1830.0" y="738.4"/>
<use href="#mo" x="1827.0" y="738.9"/>
<use href="#mo" x="1823.9" y="740.5"/>
<use href="#mo" x="1820.9" y="739.2"/>
<use href="#mo" x="1817.8" y="740.3"/>
<use href="#mo" x="1814.8" y="739.7"/>
<use href="#mo" x="1811.7" y="741.2"/>
<use href="#mo" x="1808.7" y="741.8"/>
<use href="#mo" x="1805.7" y="741.2"/>
<use href="#mo" x="1802.6" y="740.8"/>
<use href="#mo" x="1799.6" y="741.8"/>
<use href="#mo" x="1796.5" y="743.1"/>
<use href="#mo" x="1793.5" y="742.8"/>
<use href="#mo" x="1790.4" y="742.1"/>
<use href="#mo" x="1787.4" y="742.5"/>
<use href="#mo" x="1784.4" y="743.8"/>
<use href="#mo" x="1781.3" y="744.5"/>
<use href="#mo" x="1778.3" y="743.0"/>
<use href="#mo" x="1775.2" y="743.0"/>
<use href="#mo" x="1772.2" y="744.9"/>
<use href="#mo" x="1769.1" y="743.5"/>
<use href="#mo" x="1766.1" y="743.4"/>
<use href="#mo" x="1763.1" y="746.0"/>
<use href="#mo" x="1760.0" y="745.2"/>
<use href="#mo" x="1757.0" y="746.5"/>
<use href="#mo" x="1753.9" y="744.8"/>
<use href="#mo" x="1750.9" y="746.6"/>
<use href="#mo" x="1747.8" y="746.8"/>
<use href="#mo" x="1744.8" y="745.4"/>
<use href="#mo" x="1741.8" y="745.9"/>
<use href="#mo" x="1738.7" y="747.0"/>
<use href="#mo" x="1735.7" y="745.5"/>
<use href="#mo" x="1732.6" y="747.0"/>
<use href="#mo" x="1729.6" y="746.0"/>
<use href="#mo" x="1726.5" y="747.8"/>
<use href="#mo" x="1723.5" y="747.4"/>
<use href="#mo" x="1720.5" y="747.3"/>
<use href="#mo" x="1717.4" y="747.1"/>
<use href="#mo" x="1714.4" y="748.8"/>
<use href="#mo" x="1711.3" y="748.4"/>
<use href="#mo" x="1708.3" y="749.0"/>
<use href="#mo" x="1705.3" y="747.7"/>
<use href="#mo" x="1702.2" y="748.9"/>
<use href="#mo" x="1699.2" y="748.4"/>
<use href="#mo" x="1696.1" y="747.9"/>
<use href="#mo" x="1693.1" y="748.6"/>
<use href="#mo" x="1690.0" y="749.3"/>
<use href="#mo" x="1687.0" y="750.7"/>
<use href="#mo" x="1684.0" y="751.0"/>
<use href="#mo" x="1680.9" y="750.3"/>
<use href="#mo" x="1677.9" y="749.3"/>
<use href="#mo" x="1674.8" y="752.1"/>
<use href="#mo" x="1671.8" y="752.5"/>
<use href="#mo" x="1668.7" y="752.0"/>
<use href="#mo" x="1665.7" y="752.3"/>
<use href="#mo" x="1662.7" y="750.9"/>
<use href="#mo" x="1659.6" y="751.7"/>
<use href="#mo" x="1656.6" y="751.9"/>
<use href="#mo" x="1653.5" y="752.5"/>
<use href="#mo" x="1650.5" y="752.1"/>
<use href="#mo" x="1647.4" y="752.8"/>
<use href="#mo" x="1644.4" y="752.7"/>
<use href="#mo" x="1641.4" y="754.1"/>
<use href="#mo" x="1638.3" y="754.2"/>
<use href="#mo" x="1635.3" y="754.6"/>
<use href="#mo" x="1632.2" y="755.1"/>
<use href="#mo" x="1629.2" y="754.9"/>
<use href="#mo" x="1626.1" y="756.3"/>
<use href="#mo" x="1623.1" y="757.1"/>
<use href="#mo" x="1620.1" y="756.9"/>
<use href="#mo" x="1617.0" y="756.1"/>
<use href="#mo" x="1614.0" y="757.4"/>
<use href="#mo" x="1610.9" y="757.7"/>
<use href="#mo" x="1607.9" y="756.5"/>
<use href="#mo" x="1604.8" y="757.0"/>
<use href="#mo" x="1601.8" y="758.4"/>
<use href="#mo" x="1598.8" y="758.0"/>
<use href="#mo" x="1595.7" y="758.3"/>
<use href="#mo" x="1592.7" y="757.7"/>
<use href="#mo" x="1589.6" y="759.1"/>
<use href="#mo" x="1586.6" y="759.6"/>
<use href="#mo" x="1583.5" y="759.3"/>
<use href="#mo" x="1580.5" y="759.3"/>
<use href="#mo" x="1577.5" y="760.5"/>
<use href="#mo" x="1574.4" y="759.9"/>
<use href="#mo" x="1571.4" y="759.8"/>
<use href="#mo" x="1568.3" y="760.9"/>
<use href="#mo" x="1565.3" y="759.5"/>
<use href="#mo" x="1562.2" y="759.8"/>
<use href="#mo" x="1559.2" y="760.7"/>
<use href="#mo" x="1556.2" y="760.6"/>
<use href="#mo" x="1553.1" y="760.9"/>
<use href="#mo" x="1550.1" y="760.0"/>
<use href="#mo" x="1547.0" y="760.7"/>
<use href="#mo" x="1544.0" y="761.2"/>
<use href="#mo" x="1541.0" y="761.2"/>
<use href="#mo" x="1537.9" y="762.6"/>
<use href="#mo" x="1534.9" y="760.0"/>
<use href="#mo" x="1531.8" y="761.1"/>
<use href="#mo" x="1528.8" y="761.5"/>
<use href="#mo" x="1525.7" y="762.7"/>
<use href="#mo" x="1522.7" y="761.7"/>
<use href="#mo" x="1519.7" y="762.0"/>
<use href="#mo" x="1516.6" y="761.3"/>
<use href="#mo" x="1513.6" y="763.0"/>
<use href="#mo" x="1510.5" y="762.8"/>
<use href="#mo" x="1507.5" y="761.3"/>
<use href="#mo" x="1504.4" y="762.6"/>
<use href="#mo" x="1501.4" y="761.8"/>
<use href="#mo" x="1498.4" y="760.7"/>
<use href="#mo" x="1495.3" y="761.4"/>
<use href="#mo" x="1492.3" y="762.6"/>
<use href="#mo" x="1489.2" y="762.6"/>
<use href="#mo" x="1486.2" y="763.2"/>
<use href="#mo" x="1483.1" y="762.3"/>
<use href="#mo" x="1480.1" y="761.2"/>
<use href="#mo" x="1477.1" y="762.0"/>
<use href="#mo" x="1474.0" y="762.8"/>
<use href="#mo" x="1471.0" y="762.5"/>
<use href="#mo" x="1467.9" y="761.4"/>
<use href="#mo" x="1464.9" y="763.3"/>
<use href="#mo" x="1461.8" y="761.5"/>
<use href="#mo" x="1458.8" y="761.8"/>
<use href="#mo" x="1455.8" y="761.3"/>
<use href="#mo" x="1452.7" y="761.4"/>
<use href="#mo" x="1449.7" y="762.5"/>
<use href="#mo" x="1446.6" y="761.3"/>
<use href="#mo" x="1443.6" y="761.6"/>
<use href="#mo" x="1440.5" y="763.8"/>
<use href="#mo" x="1437.5" y="763.1"/>
<use href="#mo" x="1434.5" y="761.4"/>
<use href="#mo" x="1431.4" y="762.6"/>
<use href="#mo" x="1428.4" y="763.8"/>
<use href="#mo" x="1425.3" y="762.9"/>
<use href="#mo" x="1422.3" y="763.4"/>
<use href="#mo" x="1419.2" y="762.3"/>
<use href="#mo" x="1416.2" y="764.0"/>
<use href="#mo" x="1413.2" y="762.0"/>
<use href="#mo" x="1410.1" y="762.6"/>
<use href="#mo" x="1407.1" y="764.1"/>
<use href="#mo" x="1404.0" y="762.8"/>
<use href="#mo" x="1401.0" y="762.3"/>
<use href="#mo" x="1397.9" y="763.9"/>
<use href="#mo" x="1394.9" y="763.3"/>
<use href="#mo" x="1391.9" y="762.1"/>
<use href="#mo" x="1388.8" y="764.0"/>
<use href="#mo" x="1385.8" y="762.8"/>
<use href="#mo" x="1382.7" y="763.4"/>
<use href="#mo" x="1379.7" y="763.8"/>
<use href="#mo" x="1376.7" y="762.3"/>
<use href="#mo" x="1373.6" y="762.1"/>
<use href="#mo" x="1370.6" y="763.5"/>
<use href="#mo" x="1367.5" y="764.0"/>
<use href="#mo" x="1364.5" y="763.0"/>
<use href="#mo" x="1361.4" y="764.9"/>
<use href="#mo" x="1358.4" y="764.0"/>
<use href="#mo" x="1355.4" y="764.3"/>
<use href="#mo" x="1352.3" y="764.9"/>
<use href="#mo" x="1349.3" y="763.9"/>
<use href="#mo" x="1346.2" y="764.0"/>
<use href="#mo" x="1343.2" y="764.3"/>
<use href="#mo" x="1340.1" y="763.7"/>
<use href="#mo" x="1337.1" y="764.9"/>
<use href="#mo" x="1334.1" y="764.0"/>
<use href="#mo" x="1331.0" y="763.5"/>
<use href="#mo" x="1328.0" y="765.7"/>
<use href="#mo" x="1324.9" y="764.0"/>
<use href="#mo" x="1321.9" y="763.7"/>
<use href="#mo" x="1318.8" y="764.6"/>
<use href="#mo" x="1315.8" y="765.1"/>
<use href="#mo" x="1312.8" y="765.4"/>
<use href="#mo" x="1309.7" y="764.9"/>
<use href="#mo" x="1306.7" y="766.3"/>
<use href="#mo" x="1303.6" y="765.7"/>
<use href="#mo" x="1300.6" y="764.7"/>
<use href="#mo" x="1297.5" y="764.8"/>
<use href="#mo" x="1294.5" y="764.8"/>
<use href="#mo" x="1291.5" y="766.2"/>
<use href="#mo" x="1288.4" y="765.9"/>
<use href="#mo" x="1285.4" y="766.6"/>
<use href="#mo" x="1282.3" y="767.0"/>
<use href="#mo" x="1279.3" y="765.9"/>
<use href="#mo" x="1276.2" y="767.0"/>
<use href="#mo" x="1273.2" y="767.9"/>
<use href="#mo" x="1270.2" y="766.4"/>
<use href="#mo" x="1267.1" y="767.1"/>
<use href="#mo" x="1264.1" y="767.9"/>
<use href="#mo" x="1261.0" y="766.3"/>
<use href="#mo" x="1258.0" y="767.5"/>
<use href="#mo" x="1254.9" y="767.3"/>
<use href="#mo" x="1251.9" y="769.0"/>
<use href="#mo" x="1248.9" y="768.6"/>
<use href="#mo" x="1245.8" y="768.2"/>
<use href="#mo" x="1242.8" y="768.8"/>
<use href="#mo" x="1239.7" y="768.0"/>
<use href="#mo" x="1236.7" y="768.0"/>
<use href="#mo" x="1233.6" y="769.8"/>
<use href="#mo" x="1230.6" y="768.4"/>
<use href="#mo" x="1227.6" y="769.2"/>
<use href="#mo" x="1224.5" y="769.8"/>
<use href="#mo" x="1221.5" y="769.4"/>
<use href="#mo" x="1218.4" y="768.1"/>
<use href="#mo" x="1215.4" y="770.6"/>
<use href="#mo" x="1212.4" y="769.2"/>
<use href="#mo" x="1209.3" y="768.6"/>
<use href="#mo" x="1206.3" y="770.0"/>
<use href="#mo" x="1203.2" y="771.0"/>
<use href="#mo" x="1200.2" y="768.7"/>
<use href="#mo" x="1197.1" y="771.0"/>
<use href="#mo" x="1194.1" y="771.3"/>
<use href="#mo" x="1191.1" y="771.2"/>
<use href="#mo" x="1188.0" y="769.9"/>
<use href="#mo" x="1185.0" y="770.1"/>
<use href="#mo" x="1181.9" y="770.6"/>
<use href="#mo" x="1178.9" y="769.5"/>
<use href="#mo" x="1175.8" y="771.7"/>
<use href="#mo" x="1172.8" y="770.9"/>
<use href="#mo" x="1169.8" y="771.4"/>
<use href="#mo" x="1166.7" y="771.8"/>
<use href="#mo" x="1163.7" y="771.6"/>
<use href="#mo" x="1160.6" y="772.1"/>
<use href="#mo" x="1157.6" y="771.8"/>
<use href="#mo" x="1154.5" y="771.1"/>
<use href="#mo" x="1151.5" y="770.5"/>
<use href="#mo" x="1148.5" y="771.8"/>
<use href="#mo" x="1145.4" y="772.7"/>
<use href="#mo" x="1142.4" y="771.5"/>
<use href="#mo" x="1139.3" y="772.2"/>
<use href="#mo" x="1136.3" y="771.1"/>
<use href="#mo" x="1133.2" y="771.2"/>
<use href="#mo" x="1130.2" y="771.9"/>
<use href="#mo" x="1127.2" y="771.4"/>
<use href="#mo" x="1124.1" y="772.2"/>
<use href="#mo" x="1121.1" y="773.0"/>
<use href="#mo" x="1118.0" y="772.0"/>
<use href="#mo" x="1115.0" y="772.1"/>
<use href="#mo" x="1111.9" y="773.2"/>
<use href="#mo" x="1108.9" y="773.5"/>
<use href="#mo" x="1105.9" y="775.1"/>
<use href="#mo" x="1102.8" y="772.6"/>
<use href="#mo" x="1099.8" y="774.5"/>
<use href="#mo" x="1096.7" y="772.9"/>
<use href="#mo" x="1093.7" y="774.4"/>
<use href="#mo" x="1090.6" y="775.5"/>
<use href="#mo" x="1087.6" y="774.5"/>
<use href="#mo" x="1084.6" y="775.8"/>
<use href="#mo" x="1081.5" y="775.2"/>
<use href="#mo" x="1078.5" y="776.4"/>
<use href="#mo" x="1075.4" y="776.1"/>
<use href="#mo" x="1072.4" y="775.9"/>
<use href="#mo" x="1069.3" y="776.2"/>
<use href="#mo" x="1066.3" y="774.6"/>
<use href="#mo" x="1063.3" y="777.6"/>
<use href="#mo" x="1060.2" y="777.1"/>
<use href="#mo" x="1057.2" y="777.5"/>
<use href="#mo" x="1054.1" y="775.1"/>
<use href="#mo" x="1051.1" y="775.2"/>
<use href="#mo" x="1048.0" y="777.4"/>
<use href="#mo" x="1045.0" y="776.1"/>
<use href="#mo" x="1042.0" y="777.5"/>
<use href="#mo" x="1038.9" y="778.5"/>
<use href="#mo" x="1035.9" y="775.8"/>
<use href="#mo" x="1032.8" y="778.2"/>
<use href="#mo" x="1029.8" y="776.4"/>
<use href="#mo" x="1026.8" y="776.9"/>
<use href="#mo" x="1023.7" y="776.2"/>
<use href="#mo" x="1020.7" y="777.7"/>
<use href="#mo" x="1017.6" y="777.8"/>
<use href="#mo" x="1014.6" y="778.7"/>
<use href="#mo" x="1011.5" y="776.7"/>
<use href="#mo" x="1008.5" y="778.6"/>
<use href="#mo" x="1005.5" y="780.9"/>
<use href="#mo" x="1002.4" y="779.6"/>
<use href="#mo" x="999.4" y="780.9"/>
<use href="#mo" x="996.3" y="780.1"/>
<use href="#mo" x="993.3" y="780.5"/>
<use href="#mo" x="990.2" y="780.3"/>
<use href="#mo" x="987.2" y="781.0"/>
<use href="#mo" x="984.2" y="781.4"/>
<use href="#mo" x="981.1" y="777.5"/>
<use href="#mo" x="978.1" y="779.2"/>
<use href="#mo" x="975.0" y="778.1"/>
<use href="#mo" x="972.0" y="778.4"/>
<use href="#mo" x="968.9" y="780.2"/>
<use href="#mo" x="965.9" y="782.9"/>
<use href="#mo" x="962.9" y="783.2"/>
<use href="#mo" x="959.8" y="779.3"/>
<use href="#mo" x="956.8" y="778.6"/>
<use href="#mo" x="953.7" y="779.0"/>
<use href="#mo" x="950.7" y="779.1"/>
<use href="#mo" x="947.6" y="782.9"/>
<use href="#mo" x="944.6" y="783.1"/>
<use href="#mo" x="941.6" y="780.2"/>
<use href="#mo" x="938.5" y="783.3"/>
<use href="#mo" x="935.5" y="783.0"/>
<use href="#mo" x="932.4" y="783.9"/>
<use href="#mo" x="929.4" y="781.9"/>
<use href="#mo" x="926.3" y="781.4"/>
<use href="#mo" x="923.3" y="781.3"/>
<use href="#mo" x="920.3" y="786.5"/>
<use href="#mo" x="917.2" y="781.6"/>
<use href="#mo" x="914.2" y="782.5"/>
<use href="#mo" x="911.1" y="786.9"/>
<use href="#mo" x="908.1" y="787.6"/>
<use href="#mo" x="905.0" y="781.3"/>
<use href="#mo" x="902.0" y="783.1"/>
<use href="#mo" x="899.0" y="785.9"/>
<use href="#mo" x="895.9" y="787.8"/>
<use href="#mo" x="892.9" y="785.4"/>
<use href="#mo" x="889.8" y="784.3"/>
<use href="#mo" x="886.8" y="783.0"/>
<use href="#mo" x="883.7" y="787.7"/>
<use href="#mo" x="880.7" y="784.6"/>
<use href="#mo" x="877.7" y="787.7"/>
<use href="#mo" x="874.6" y="789.0"/>
<use href="#mo" x="871.6" y="786.6"/>
<use href="#mo" x="868.5" y="791.2"/>
<use href="#mo" x="865.5" y="792.3"/>
<use href="#mo" x="862.5" y="786.9"/>
<use href="#mo" x="859.4" y="785.6"/>
<use href="#mo" x="856.4" y="791.5"/>
<use href="#mo" x="853.3" y="790.5"/>
<use href="#mo" x="850.3" y="789.1"/>
<use href="#mo" x="847.2" y="790.7"/>
<use href="#mo" x="844.2" y="790.1"/>
<use href="#mo" x="841.2" y="795.6"/>
<use href="#mo" x="838.1" y="791.8"/>
<use href="#mo" x="835.1" y="796.6"/>
<use href="#mo" x="832.0" y="796.7"/>
<use href="#mo" x="829.0" y="789.2"/>
<use href="#mo" x="825.9" y="789.4"/>
<use href="#mo" x="822.9" y="791.5"/>
<use href="#mo" x="819.9" y="791.5"/>
<use href="#mo" x="816.8" y="794.2"/>
<use href="#mo" x="813.8" y="790.2"/>
<use href="#mo" x="810.7" y="796.9"/>
<use href="#mo" x="807.7" y="790.4"/>
<use href="#mo" x="804.6" y="795.1"/>
<use href="#mo" x="801.6" y="791.8"/>
<use href="#mo" x="798.6" y="792.2"/>
<use href="#mo" x="795.5" y="797.8"/>
<use href="#mo" x="792.5" y="793.6"/>
<use href="#mo" x="789.4" y="798.4"/>
<use href="#mo" x="786.4" y="795.9"/>
<use href="#mo" x="783.3" y="791.7"/>
<use href="#mo" x="780.3" y="792.9"/>
<use href="#mo" x="777.3" y="792.3"/>
<use href="#mo" x="774.2" y="797.9"/>
<use href="#mo" x="771.2" y="792.8"/>
<use href="#mo" x="768.1" y="789.2"/>
<use href="#mo" x="765.1" y="789.4"/>
<use href="#mo" x="762.0" y="793.1"/>
<use href="#mo" x="759.0" y="792.4"/>
<use href="#mo" x="756.0" y="793.0"/>
<use href="#mo" x="752.9" y="790.5"/>
<use href="#mo" x="749.9" y="788.1"/>
<use href="#mo" x="746.8" y="788.6"/>
<use href="#mo" x="743.8" y="785.5"/>
<use href="#mo" x="740.7" y="783.9"/>
<use href="#mo" x="737.7" y="779.1"/>
<use href="#mo" x="734.7" y="772.9"/>
<use href="#mo" x="731.6" y="771.6"/>
<use href="#mo" x="728.6" y="767.1"/>
<use href="#mo" x="725.5" y="762.6"/>
<use href="#mo" x="722.5" y="757.0"/>
<use href="#po" x="716.4" y="740.0"/>
<use href="#po" x="713.4" y="727.6"/>
<use href="#po" x="710.3" y="715.2"/>
<use href="#po" x="707.3" y="701.6"/>
<use href="#po" x="698.2" y="656.4"/>
<use href="#po" x="695.1" y="653.0"/>
<use href="#po" x="692.1" y="649.6"/>
<use href="#po" x="689.0" y="646.2"/>
<use href="#po" x="682.9" y="631.6"/>
<use href="#po" x="679.9" y="622.5"/>
<use href="#po" x="676.9" y="612.3"/>
<use href="#po" x="673.8" y="615.4"/>
<use href="#po" x="670.8" y="612.7"/>
<use href="#po" x="667.7" y="604.7"/>
<use href="#po" x="664.7" y="599.1"/>
<use href="#po" x="658.6" y="603.5"/>
<use href="#po" x="655.6" y="607.5"/>
<use href="#po" x="652.5" y="602.5"/>
<use href="#po" x="649.5" y="612.4"/>
<use href="#po" x="646.4" y="587.2"/>
<use href="#po" x="643.4" y="605.4"/>
<use href="#po" x="640.3" y="590.3"/>
<use href="#po" x="634.3" y="599.1"/>
<use href="#po" x="631.2" y="602.7"/>
<use href="#po" x="628.2" y="608.7"/>
<use href="#po" x="625.1" y="607.9"/>
<use href="#po" x="622.1" y="590.4"/>
<use href="#po" x="616.0" y="611.1"/>
<use href="#po" x="613.0" y="610.7"/>
<use href="#po" x="609.9" y="599.4"/>
<use href="#po" x="606.9" y="594.5"/>
<use href="#po" x="603.8" y="594.3"/>
<use href="#po" x="600.8" y="610.7"/>
<use href="#po" x="594.7" y="575.3"/>
<use href="#po" x="582.5" y="574.2"/>
<use href="#po" x="576.4" y="565.8"/>
<use href="#po" x="564.3" y="535.3"/>
<use href="#po" x="561.2" y="526.3"/>
<use href="#po" x="558.2" y="529.4"/>
<use href="#po" x="555.1" y="561.8"/>
<use href="#po" x="552.1" y="562.3"/>
<use href="#po" x="549.1" y="528.8"/>
<use href="#po" x="546.0" y="563.8"/>
<use href="#po" x="543.0" y="535.8"/>
<use href="#po" x="536.9" y="535.3"/>
<use href="#po" x="533.9" y="552.2"/>
<use href="#po" x="524.7" y="538.9"/>
<use href="#po" x="521.7" y="522.9"/>
<use href="#po" x="518.6" y="529.5"/>
<use href="#po" x="512.6" y="510.6"/>
<use href="#po" x="509.5" y="496.8"/>
<use href="#po" x="506.5" y="501.9"/>
<use href="#po" x="500.4" y="484.0"/>
<use href="#po" x="497.3" y="494.6"/>
<use href="#po" x="485.2" y="454.0"/>
<use href="#po" x="473.0" y="491.5"/>
<use href="#po" x="466.9" y="489.0"/>
<use href="#po" x="463.9" y="490.9"/>
<use href="#po" x="457.8" y="466.6"/>
<use href="#mo" x="719.4" y="753.2"/>
<use href="#mo" x="704.2" y="686.0"/>
<use href="#mo" x="701.2" y="700.5"/>
<use href="#mo" x="686.0" y="641.5"/>
<use href="#mo" x="661.6" y="579.6"/>
<use href="#mo" x="637.3" y="618.4"/>
<use href="#mo" x="619.0" y="577.3"/>
<use href="#mo" x="597.7" y="598.6"/>
<use href="#mo" x="591.7" y="611.6"/>
<use href="#mo" x="588.6" y="535.4"/>
<use href="#mo" x="585.6" y="563.8"/>
<use href="#mo" x="579.5" y="572.5"/>
<use href="#mo" x="573.4" y="604.8"/>
<use href="#mo" x="570.4" y="585.5"/>
<use href="#mo" x="567.3" y="517.2"/>
<use href="#mo" x="539.9" y="599.4"/>
<use href="#mo" x="530.8" y="511.6"/>
<use href="#mo" x="527.8" y="549.1"/>
<use href="#mo" x="515.6" y="486.0"/>
<use href="#mo" x="503.4" y="521.2"/>
<use href="#mo" x="494.3" y="500.2"/>
<use href="#mo" x="491.3" y="473.9"/>
<use href="#mo" x="488.2" y="442.9"/>
<use href="#mo" x="482.1" y="517.2"/>
<use href="#mo" x="479.1" y="472.9"/>
<use href="#mo" x="476.0" y="451.9"/>
<use href="#mo" x="470.0" y="499.6"/>
<use href="#mo" x="460.8" y="461.0"/>
<use href="#mo" x="454.7" y="471.8"/>
<use href="#mo" x="451.7" y="489.4"/></g>
<g stroke="#000" stroke-width="7" fill="none" stroke-linecap="butt">
<rect x="299" y="31.6" width="1824.4" height="1469.9"/>
<line x1="270.7" y1="1501.5" x2="299.0" y2="1501.5"/>
<line x1="284.5" y1="1388.5" x2="299.0" y2="1388.5"/>
<line x1="270.7" y1="1275.5" x2="299.0" y2="1275.5"/>
<line x1="284.5" y1="1162.6" x2="299.0" y2="1162.6"/>
<line x1="270.7" y1="1049.6" x2="299.0" y2="1049.6"/>
<line x1="284.5" y1="936.6" x2="299.0" y2="936.6"/>
<line x1="270.7" y1="823.6" x2="299.0" y2="823.6"/>
<line x1="284.5" y1="710.6" x2="299.0" y2="710.6"/>
<line x1="270.7" y1="597.7" x2="299.0" y2="597.7"/>
<line x1="284.5" y1="484.7" x2="299.0" y2="484.7"/>
<line x1="270.7" y1="371.7" x2="299.0" y2="371.7"/>
<line x1="284.5" y1="258.7" x2="299.0" y2="258.7"/>
<line x1="270.7" y1="145.7" x2="299.0" y2="145.7"/>
<line x1="284.5" y1="31.6" x2="299.0" y2="31.6"/>
<line x1="299.0" y1="1501.5" x2="299.0" y2="1516.0"/>
<line x1="451.7" y1="1501.5" x2="451.7" y2="1533.0"/>
<line x1="603.8" y1="1501.5" x2="603.8" y2="1516.0"/>
<line x1="756.0" y1="1501.5" x2="756.0" y2="1533.0"/>
<line x1="908.1" y1="1501.5" x2="908.1" y2="1516.0"/>
<line x1="1060.2" y1="1501.5" x2="1060.2" y2="1533.0"/>
<line x1="1212.4" y1="1501.5" x2="1212.4" y2="1516.0"/>
<line x1="1364.5" y1="1501.5" x2="1364.5" y2="1533.0"/>
<line x1="1516.6" y1="1501.5" x2="1516.6" y2="1516.0"/>
<line x1="1668.7" y1="1501.5" x2="1668.7" y2="1533.0"/>
<line x1="1820.9" y1="1501.5" x2="1820.9" y2="1516.0"/>
<line x1="1973.0" y1="1501.5" x2="1973.0" y2="1533.0"/>
<line x1="2123.4" y1="1501.5" x2="2123.4" y2="1516.0"/>
</g>
<g class="tk">
<text transform="translate(247.5,1519.5) scale(0.99,1)" text-anchor="end">0.0</text>
<text transform="translate(247.5,1294.4) scale(0.99,1)" text-anchor="end">0.2</text>
<text transform="translate(247.5,1068.6) scale(0.99,1)" text-anchor="end">0.4</text>
<text transform="translate(247.5,844.4) scale(0.99,1)" text-anchor="end">0.6</text>
<text transform="translate(247.5,619.6) scale(0.99,1)" text-anchor="end">0.8</text>
<text transform="translate(247.5,386.4) scale(0.99,1)" text-anchor="end">1.0</text>
<text transform="translate(247.5,163.8) scale(0.99,1)" text-anchor="end">1.2</text>
<text transform="translate(450.7,1609.5) scale(0.947,1)" text-anchor="middle">300</text>
<text transform="translate(754.5,1609.5) scale(0.947,1)" text-anchor="middle">400</text>
<text transform="translate(1059.2,1609.5) scale(0.947,1)" text-anchor="middle">500</text>
<text transform="translate(1361.5,1609.5) scale(0.947,1)" text-anchor="middle">600</text>
<text transform="translate(1666.4,1609.5) scale(0.947,1)" text-anchor="middle">700</text>
<text transform="translate(1971.2,1609.5) scale(0.947,1)" text-anchor="middle">800</text>
</g>
<text class="ax" x="1214.3" y="1746.5" text-anchor="middle">Wavelength (nm)</text>
<text class="ay" transform="translate(107.5,765.5) rotate(-90)" text-anchor="middle">Absorbance (arb.units)</text>
<line x1="714.6" y1="109.9" x2="891.6" y2="109.9" stroke="#aaaaff" stroke-width="6"/>
<use href="#mb" x="802.2" y="109.9"/>
<text class="lg" transform="translate(909.5,137.1) scale(0.942,1)">ZnO NRs</text>
<line x1="714.6" y1="206.2" x2="891.6" y2="206.2" stroke="#ffaaaa" stroke-width="6"/>
<use href="#mr" x="802.2" y="206.2"/>
<text class="lg" transform="translate(909.5,233.4) scale(0.942,1)">ZnO NRs/GO1</text>
<line x1="714.6" y1="302.5" x2="891.6" y2="302.5" stroke="#aad5aa" stroke-width="6"/>
<use href="#mg" x="802.2" y="302.5"/>
<text class="lg" transform="translate(909.5,329.7) scale(0.942,1)">ZnO NRs/GO2</text>
<line x1="714.6" y1="398.8" x2="891.6" y2="398.8" stroke="#ffd5aa" stroke-width="6"/>
<use href="#mo" x="802.2" y="398.8"/>
<text class="lg" transform="translate(909.5,426.0) scale(0.942,1)">ZnO NRs/GO3</text>
</g>
</svg></body></html>
